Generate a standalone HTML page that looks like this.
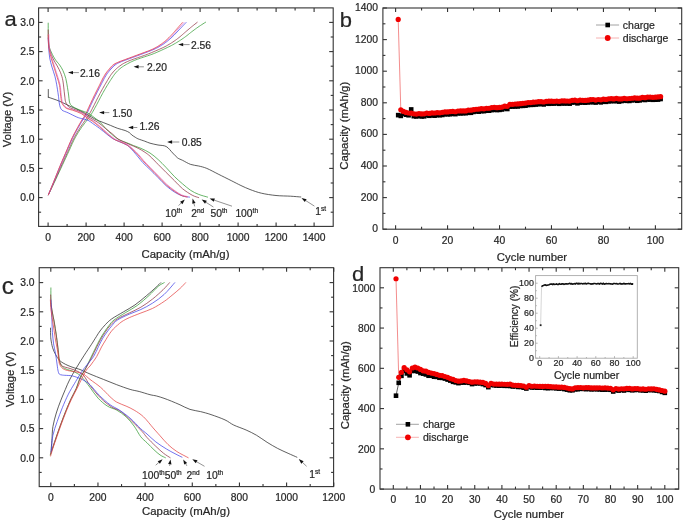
<!DOCTYPE html>
<html><head><meta charset="utf-8"><style>
html,body{margin:0;padding:0;background:#fff;}
svg{display:block;font-family:"Liberation Sans", sans-serif;filter:blur(0.3px);}
text{stroke:#2a2a2a;stroke-width:0.22px;paint-order:stroke;}
</style></head><body>
<svg width="685" height="524" viewBox="0 0 685 524">
<rect width="685" height="524" fill="#fff"/>
<rect x="38.6" y="7.9" width="294.6" height="218.5" fill="none" stroke="#333" stroke-width="1.1"/>
<line x1="48.1" y1="226.4" x2="48.1" y2="222.4" stroke="#333" stroke-width="1.1"/>
<line x1="48.1" y1="7.9" x2="48.1" y2="11.9" stroke="#333" stroke-width="1.1"/>
<text x="48.1" y="241.3" font-size="10.3" text-anchor="middle" fill="#262626" >0</text>
<line x1="86.1" y1="226.4" x2="86.1" y2="222.4" stroke="#333" stroke-width="1.1"/>
<line x1="86.1" y1="7.9" x2="86.1" y2="11.9" stroke="#333" stroke-width="1.1"/>
<text x="86.1" y="241.3" font-size="10.3" text-anchor="middle" fill="#262626" >200</text>
<line x1="124.1" y1="226.4" x2="124.1" y2="222.4" stroke="#333" stroke-width="1.1"/>
<line x1="124.1" y1="7.9" x2="124.1" y2="11.9" stroke="#333" stroke-width="1.1"/>
<text x="124.1" y="241.3" font-size="10.3" text-anchor="middle" fill="#262626" >400</text>
<line x1="162.1" y1="226.4" x2="162.1" y2="222.4" stroke="#333" stroke-width="1.1"/>
<line x1="162.1" y1="7.9" x2="162.1" y2="11.9" stroke="#333" stroke-width="1.1"/>
<text x="162.1" y="241.3" font-size="10.3" text-anchor="middle" fill="#262626" >600</text>
<line x1="200.1" y1="226.4" x2="200.1" y2="222.4" stroke="#333" stroke-width="1.1"/>
<line x1="200.1" y1="7.9" x2="200.1" y2="11.9" stroke="#333" stroke-width="1.1"/>
<text x="200.1" y="241.3" font-size="10.3" text-anchor="middle" fill="#262626" >800</text>
<line x1="238.1" y1="226.4" x2="238.1" y2="222.4" stroke="#333" stroke-width="1.1"/>
<line x1="238.1" y1="7.9" x2="238.1" y2="11.9" stroke="#333" stroke-width="1.1"/>
<text x="238.1" y="241.3" font-size="10.3" text-anchor="middle" fill="#262626" >1000</text>
<line x1="276.1" y1="226.4" x2="276.1" y2="222.4" stroke="#333" stroke-width="1.1"/>
<line x1="276.1" y1="7.9" x2="276.1" y2="11.9" stroke="#333" stroke-width="1.1"/>
<text x="276.1" y="241.3" font-size="10.3" text-anchor="middle" fill="#262626" >1200</text>
<line x1="314.1" y1="226.4" x2="314.1" y2="222.4" stroke="#333" stroke-width="1.1"/>
<line x1="314.1" y1="7.9" x2="314.1" y2="11.9" stroke="#333" stroke-width="1.1"/>
<text x="314.1" y="241.3" font-size="10.3" text-anchor="middle" fill="#262626" >1400</text>
<line x1="67.1" y1="226.4" x2="67.1" y2="223.9" stroke="#333" stroke-width="1.1"/>
<line x1="67.1" y1="7.9" x2="67.1" y2="10.4" stroke="#333" stroke-width="1.1"/>
<line x1="105.1" y1="226.4" x2="105.1" y2="223.9" stroke="#333" stroke-width="1.1"/>
<line x1="105.1" y1="7.9" x2="105.1" y2="10.4" stroke="#333" stroke-width="1.1"/>
<line x1="143.1" y1="226.4" x2="143.1" y2="223.9" stroke="#333" stroke-width="1.1"/>
<line x1="143.1" y1="7.9" x2="143.1" y2="10.4" stroke="#333" stroke-width="1.1"/>
<line x1="181.1" y1="226.4" x2="181.1" y2="223.9" stroke="#333" stroke-width="1.1"/>
<line x1="181.1" y1="7.9" x2="181.1" y2="10.4" stroke="#333" stroke-width="1.1"/>
<line x1="219.1" y1="226.4" x2="219.1" y2="223.9" stroke="#333" stroke-width="1.1"/>
<line x1="219.1" y1="7.9" x2="219.1" y2="10.4" stroke="#333" stroke-width="1.1"/>
<line x1="257.1" y1="226.4" x2="257.1" y2="223.9" stroke="#333" stroke-width="1.1"/>
<line x1="257.1" y1="7.9" x2="257.1" y2="10.4" stroke="#333" stroke-width="1.1"/>
<line x1="295.1" y1="226.4" x2="295.1" y2="223.9" stroke="#333" stroke-width="1.1"/>
<line x1="295.1" y1="7.9" x2="295.1" y2="10.4" stroke="#333" stroke-width="1.1"/>
<line x1="38.6" y1="197.6" x2="42.6" y2="197.6" stroke="#333" stroke-width="1.1"/>
<line x1="333.2" y1="197.6" x2="329.2" y2="197.6" stroke="#333" stroke-width="1.1"/>
<text x="34.6" y="201.31" font-size="10.3" text-anchor="end" fill="#262626" >0.0</text>
<line x1="38.6" y1="168.4" x2="42.6" y2="168.4" stroke="#333" stroke-width="1.1"/>
<line x1="333.2" y1="168.4" x2="329.2" y2="168.4" stroke="#333" stroke-width="1.1"/>
<text x="34.6" y="172.11" font-size="10.3" text-anchor="end" fill="#262626" >0.5</text>
<line x1="38.6" y1="139.2" x2="42.6" y2="139.2" stroke="#333" stroke-width="1.1"/>
<line x1="333.2" y1="139.2" x2="329.2" y2="139.2" stroke="#333" stroke-width="1.1"/>
<text x="34.6" y="142.91" font-size="10.3" text-anchor="end" fill="#262626" >1.0</text>
<line x1="38.6" y1="110" x2="42.6" y2="110" stroke="#333" stroke-width="1.1"/>
<line x1="333.2" y1="110" x2="329.2" y2="110" stroke="#333" stroke-width="1.1"/>
<text x="34.6" y="113.71" font-size="10.3" text-anchor="end" fill="#262626" >1.5</text>
<line x1="38.6" y1="80.8" x2="42.6" y2="80.8" stroke="#333" stroke-width="1.1"/>
<line x1="333.2" y1="80.8" x2="329.2" y2="80.8" stroke="#333" stroke-width="1.1"/>
<text x="34.6" y="84.51" font-size="10.3" text-anchor="end" fill="#262626" >2.0</text>
<line x1="38.6" y1="51.6" x2="42.6" y2="51.6" stroke="#333" stroke-width="1.1"/>
<line x1="333.2" y1="51.6" x2="329.2" y2="51.6" stroke="#333" stroke-width="1.1"/>
<text x="34.6" y="55.31" font-size="10.3" text-anchor="end" fill="#262626" >2.5</text>
<line x1="38.6" y1="22.4" x2="42.6" y2="22.4" stroke="#333" stroke-width="1.1"/>
<line x1="333.2" y1="22.4" x2="329.2" y2="22.4" stroke="#333" stroke-width="1.1"/>
<text x="34.6" y="26.11" font-size="10.3" text-anchor="end" fill="#262626" >3.0</text>
<line x1="38.6" y1="212.2" x2="41.1" y2="212.2" stroke="#333" stroke-width="1.1"/>
<line x1="333.2" y1="212.2" x2="330.7" y2="212.2" stroke="#333" stroke-width="1.1"/>
<line x1="38.6" y1="183" x2="41.1" y2="183" stroke="#333" stroke-width="1.1"/>
<line x1="333.2" y1="183" x2="330.7" y2="183" stroke="#333" stroke-width="1.1"/>
<line x1="38.6" y1="153.8" x2="41.1" y2="153.8" stroke="#333" stroke-width="1.1"/>
<line x1="333.2" y1="153.8" x2="330.7" y2="153.8" stroke="#333" stroke-width="1.1"/>
<line x1="38.6" y1="124.6" x2="41.1" y2="124.6" stroke="#333" stroke-width="1.1"/>
<line x1="333.2" y1="124.6" x2="330.7" y2="124.6" stroke="#333" stroke-width="1.1"/>
<line x1="38.6" y1="95.4" x2="41.1" y2="95.4" stroke="#333" stroke-width="1.1"/>
<line x1="333.2" y1="95.4" x2="330.7" y2="95.4" stroke="#333" stroke-width="1.1"/>
<line x1="38.6" y1="66.2" x2="41.1" y2="66.2" stroke="#333" stroke-width="1.1"/>
<line x1="333.2" y1="66.2" x2="330.7" y2="66.2" stroke="#333" stroke-width="1.1"/>
<line x1="38.6" y1="37" x2="41.1" y2="37" stroke="#333" stroke-width="1.1"/>
<line x1="333.2" y1="37" x2="330.7" y2="37" stroke="#333" stroke-width="1.1"/>
<text x="185.5" y="257.6" font-size="11.4" text-anchor="middle" fill="#262626" >Capacity (mAh/g)</text>
<text x="0" y="0" font-size="11.2" text-anchor="middle" fill="#262626" transform="translate(11.2,119.5) rotate(-90)">Voltage (V)</text>
<text x="4.6" y="27.37" font-size="22" text-anchor="start" fill="#262626" transform="scale(1,0.95)">a</text>
<rect x="382.9" y="8" width="298.8" height="221.2" fill="none" stroke="#333" stroke-width="1.1"/>
<line x1="395.6" y1="229.2" x2="395.6" y2="225.2" stroke="#333" stroke-width="1.1"/>
<line x1="395.6" y1="8" x2="395.6" y2="12" stroke="#333" stroke-width="1.1"/>
<text x="395.6" y="244.4" font-size="10.3" text-anchor="middle" fill="#262626" >0</text>
<line x1="447.56" y1="229.2" x2="447.56" y2="225.2" stroke="#333" stroke-width="1.1"/>
<line x1="447.56" y1="8" x2="447.56" y2="12" stroke="#333" stroke-width="1.1"/>
<text x="447.56" y="244.4" font-size="10.3" text-anchor="middle" fill="#262626" >20</text>
<line x1="499.52" y1="229.2" x2="499.52" y2="225.2" stroke="#333" stroke-width="1.1"/>
<line x1="499.52" y1="8" x2="499.52" y2="12" stroke="#333" stroke-width="1.1"/>
<text x="499.52" y="244.4" font-size="10.3" text-anchor="middle" fill="#262626" >40</text>
<line x1="551.48" y1="229.2" x2="551.48" y2="225.2" stroke="#333" stroke-width="1.1"/>
<line x1="551.48" y1="8" x2="551.48" y2="12" stroke="#333" stroke-width="1.1"/>
<text x="551.48" y="244.4" font-size="10.3" text-anchor="middle" fill="#262626" >60</text>
<line x1="603.44" y1="229.2" x2="603.44" y2="225.2" stroke="#333" stroke-width="1.1"/>
<line x1="603.44" y1="8" x2="603.44" y2="12" stroke="#333" stroke-width="1.1"/>
<text x="603.44" y="244.4" font-size="10.3" text-anchor="middle" fill="#262626" >80</text>
<line x1="655.4" y1="229.2" x2="655.4" y2="225.2" stroke="#333" stroke-width="1.1"/>
<line x1="655.4" y1="8" x2="655.4" y2="12" stroke="#333" stroke-width="1.1"/>
<text x="655.4" y="244.4" font-size="10.3" text-anchor="middle" fill="#262626" >100</text>
<line x1="421.58" y1="229.2" x2="421.58" y2="226.7" stroke="#333" stroke-width="1.1"/>
<line x1="421.58" y1="8" x2="421.58" y2="10.5" stroke="#333" stroke-width="1.1"/>
<line x1="473.54" y1="229.2" x2="473.54" y2="226.7" stroke="#333" stroke-width="1.1"/>
<line x1="473.54" y1="8" x2="473.54" y2="10.5" stroke="#333" stroke-width="1.1"/>
<line x1="525.5" y1="229.2" x2="525.5" y2="226.7" stroke="#333" stroke-width="1.1"/>
<line x1="525.5" y1="8" x2="525.5" y2="10.5" stroke="#333" stroke-width="1.1"/>
<line x1="577.46" y1="229.2" x2="577.46" y2="226.7" stroke="#333" stroke-width="1.1"/>
<line x1="577.46" y1="8" x2="577.46" y2="10.5" stroke="#333" stroke-width="1.1"/>
<line x1="629.42" y1="229.2" x2="629.42" y2="226.7" stroke="#333" stroke-width="1.1"/>
<line x1="629.42" y1="8" x2="629.42" y2="10.5" stroke="#333" stroke-width="1.1"/>
<line x1="382.9" y1="229.2" x2="386.9" y2="229.2" stroke="#333" stroke-width="1.1"/>
<line x1="681.7" y1="229.2" x2="677.7" y2="229.2" stroke="#333" stroke-width="1.1"/>
<text x="378" y="232.19" font-size="10.3" text-anchor="end" fill="#262626" >0</text>
<line x1="382.9" y1="197.6" x2="386.9" y2="197.6" stroke="#333" stroke-width="1.1"/>
<line x1="681.7" y1="197.6" x2="677.7" y2="197.6" stroke="#333" stroke-width="1.1"/>
<text x="378" y="200.59" font-size="10.3" text-anchor="end" fill="#262626" >200</text>
<line x1="382.9" y1="166" x2="386.9" y2="166" stroke="#333" stroke-width="1.1"/>
<line x1="681.7" y1="166" x2="677.7" y2="166" stroke="#333" stroke-width="1.1"/>
<text x="378" y="168.99" font-size="10.3" text-anchor="end" fill="#262626" >400</text>
<line x1="382.9" y1="134.4" x2="386.9" y2="134.4" stroke="#333" stroke-width="1.1"/>
<line x1="681.7" y1="134.4" x2="677.7" y2="134.4" stroke="#333" stroke-width="1.1"/>
<text x="378" y="137.39" font-size="10.3" text-anchor="end" fill="#262626" >600</text>
<line x1="382.9" y1="102.8" x2="386.9" y2="102.8" stroke="#333" stroke-width="1.1"/>
<line x1="681.7" y1="102.8" x2="677.7" y2="102.8" stroke="#333" stroke-width="1.1"/>
<text x="378" y="105.79" font-size="10.3" text-anchor="end" fill="#262626" >800</text>
<line x1="382.9" y1="71.2" x2="386.9" y2="71.2" stroke="#333" stroke-width="1.1"/>
<line x1="681.7" y1="71.2" x2="677.7" y2="71.2" stroke="#333" stroke-width="1.1"/>
<text x="378" y="74.19" font-size="10.3" text-anchor="end" fill="#262626" >1000</text>
<line x1="382.9" y1="39.6" x2="386.9" y2="39.6" stroke="#333" stroke-width="1.1"/>
<line x1="681.7" y1="39.6" x2="677.7" y2="39.6" stroke="#333" stroke-width="1.1"/>
<text x="378" y="42.59" font-size="10.3" text-anchor="end" fill="#262626" >1200</text>
<line x1="382.9" y1="8" x2="386.9" y2="8" stroke="#333" stroke-width="1.1"/>
<line x1="681.7" y1="8" x2="677.7" y2="8" stroke="#333" stroke-width="1.1"/>
<text x="378" y="10.99" font-size="10.3" text-anchor="end" fill="#262626" >1400</text>
<line x1="382.9" y1="213.4" x2="385.4" y2="213.4" stroke="#333" stroke-width="1.1"/>
<line x1="681.7" y1="213.4" x2="679.2" y2="213.4" stroke="#333" stroke-width="1.1"/>
<line x1="382.9" y1="181.8" x2="385.4" y2="181.8" stroke="#333" stroke-width="1.1"/>
<line x1="681.7" y1="181.8" x2="679.2" y2="181.8" stroke="#333" stroke-width="1.1"/>
<line x1="382.9" y1="150.2" x2="385.4" y2="150.2" stroke="#333" stroke-width="1.1"/>
<line x1="681.7" y1="150.2" x2="679.2" y2="150.2" stroke="#333" stroke-width="1.1"/>
<line x1="382.9" y1="118.6" x2="385.4" y2="118.6" stroke="#333" stroke-width="1.1"/>
<line x1="681.7" y1="118.6" x2="679.2" y2="118.6" stroke="#333" stroke-width="1.1"/>
<line x1="382.9" y1="87" x2="385.4" y2="87" stroke="#333" stroke-width="1.1"/>
<line x1="681.7" y1="87" x2="679.2" y2="87" stroke="#333" stroke-width="1.1"/>
<line x1="382.9" y1="55.4" x2="385.4" y2="55.4" stroke="#333" stroke-width="1.1"/>
<line x1="681.7" y1="55.4" x2="679.2" y2="55.4" stroke="#333" stroke-width="1.1"/>
<line x1="382.9" y1="23.8" x2="385.4" y2="23.8" stroke="#333" stroke-width="1.1"/>
<line x1="681.7" y1="23.8" x2="679.2" y2="23.8" stroke="#333" stroke-width="1.1"/>
<text x="532" y="261.3" font-size="11.4" text-anchor="middle" fill="#262626" >Cycle number</text>
<text x="0" y="0" font-size="11.4" text-anchor="middle" fill="#262626" transform="translate(347.6,125.8) rotate(-90)">Capacity (mAh/g)</text>
<text x="339.8" y="28" font-size="22" text-anchor="start" fill="#262626" transform="scale(1,0.95)">b</text>
<rect x="39.2" y="267.7" width="294.4" height="218.9" fill="none" stroke="#333" stroke-width="1.1"/>
<line x1="50.8" y1="486.6" x2="50.8" y2="482.6" stroke="#333" stroke-width="1.1"/>
<line x1="50.8" y1="267.7" x2="50.8" y2="271.7" stroke="#333" stroke-width="1.1"/>
<text x="50.8" y="501.1" font-size="10.3" text-anchor="middle" fill="#262626" >0</text>
<line x1="97.96" y1="486.6" x2="97.96" y2="482.6" stroke="#333" stroke-width="1.1"/>
<line x1="97.96" y1="267.7" x2="97.96" y2="271.7" stroke="#333" stroke-width="1.1"/>
<text x="97.96" y="501.1" font-size="10.3" text-anchor="middle" fill="#262626" >200</text>
<line x1="145.12" y1="486.6" x2="145.12" y2="482.6" stroke="#333" stroke-width="1.1"/>
<line x1="145.12" y1="267.7" x2="145.12" y2="271.7" stroke="#333" stroke-width="1.1"/>
<text x="145.12" y="501.1" font-size="10.3" text-anchor="middle" fill="#262626" >400</text>
<line x1="192.28" y1="486.6" x2="192.28" y2="482.6" stroke="#333" stroke-width="1.1"/>
<line x1="192.28" y1="267.7" x2="192.28" y2="271.7" stroke="#333" stroke-width="1.1"/>
<text x="192.28" y="501.1" font-size="10.3" text-anchor="middle" fill="#262626" >600</text>
<line x1="239.44" y1="486.6" x2="239.44" y2="482.6" stroke="#333" stroke-width="1.1"/>
<line x1="239.44" y1="267.7" x2="239.44" y2="271.7" stroke="#333" stroke-width="1.1"/>
<text x="239.44" y="501.1" font-size="10.3" text-anchor="middle" fill="#262626" >800</text>
<line x1="286.6" y1="486.6" x2="286.6" y2="482.6" stroke="#333" stroke-width="1.1"/>
<line x1="286.6" y1="267.7" x2="286.6" y2="271.7" stroke="#333" stroke-width="1.1"/>
<text x="286.6" y="501.1" font-size="10.3" text-anchor="middle" fill="#262626" >1000</text>
<line x1="333.76" y1="486.6" x2="333.76" y2="482.6" stroke="#333" stroke-width="1.1"/>
<line x1="333.76" y1="267.7" x2="333.76" y2="271.7" stroke="#333" stroke-width="1.1"/>
<text x="333.76" y="501.1" font-size="10.3" text-anchor="middle" fill="#262626" >1200</text>
<line x1="74.38" y1="486.6" x2="74.38" y2="484.1" stroke="#333" stroke-width="1.1"/>
<line x1="74.38" y1="267.7" x2="74.38" y2="270.2" stroke="#333" stroke-width="1.1"/>
<line x1="121.54" y1="486.6" x2="121.54" y2="484.1" stroke="#333" stroke-width="1.1"/>
<line x1="121.54" y1="267.7" x2="121.54" y2="270.2" stroke="#333" stroke-width="1.1"/>
<line x1="168.7" y1="486.6" x2="168.7" y2="484.1" stroke="#333" stroke-width="1.1"/>
<line x1="168.7" y1="267.7" x2="168.7" y2="270.2" stroke="#333" stroke-width="1.1"/>
<line x1="215.86" y1="486.6" x2="215.86" y2="484.1" stroke="#333" stroke-width="1.1"/>
<line x1="215.86" y1="267.7" x2="215.86" y2="270.2" stroke="#333" stroke-width="1.1"/>
<line x1="263.02" y1="486.6" x2="263.02" y2="484.1" stroke="#333" stroke-width="1.1"/>
<line x1="263.02" y1="267.7" x2="263.02" y2="270.2" stroke="#333" stroke-width="1.1"/>
<line x1="310.18" y1="486.6" x2="310.18" y2="484.1" stroke="#333" stroke-width="1.1"/>
<line x1="310.18" y1="267.7" x2="310.18" y2="270.2" stroke="#333" stroke-width="1.1"/>
<line x1="39.2" y1="457.8" x2="43.2" y2="457.8" stroke="#333" stroke-width="1.1"/>
<line x1="333.6" y1="457.8" x2="329.6" y2="457.8" stroke="#333" stroke-width="1.1"/>
<text x="34.6" y="461.51" font-size="10.3" text-anchor="end" fill="#262626" >0.0</text>
<line x1="39.2" y1="428.6" x2="43.2" y2="428.6" stroke="#333" stroke-width="1.1"/>
<line x1="333.6" y1="428.6" x2="329.6" y2="428.6" stroke="#333" stroke-width="1.1"/>
<text x="34.6" y="432.31" font-size="10.3" text-anchor="end" fill="#262626" >0.5</text>
<line x1="39.2" y1="399.4" x2="43.2" y2="399.4" stroke="#333" stroke-width="1.1"/>
<line x1="333.6" y1="399.4" x2="329.6" y2="399.4" stroke="#333" stroke-width="1.1"/>
<text x="34.6" y="403.11" font-size="10.3" text-anchor="end" fill="#262626" >1.0</text>
<line x1="39.2" y1="370.2" x2="43.2" y2="370.2" stroke="#333" stroke-width="1.1"/>
<line x1="333.6" y1="370.2" x2="329.6" y2="370.2" stroke="#333" stroke-width="1.1"/>
<text x="34.6" y="373.91" font-size="10.3" text-anchor="end" fill="#262626" >1.5</text>
<line x1="39.2" y1="341" x2="43.2" y2="341" stroke="#333" stroke-width="1.1"/>
<line x1="333.6" y1="341" x2="329.6" y2="341" stroke="#333" stroke-width="1.1"/>
<text x="34.6" y="344.71" font-size="10.3" text-anchor="end" fill="#262626" >2.0</text>
<line x1="39.2" y1="311.8" x2="43.2" y2="311.8" stroke="#333" stroke-width="1.1"/>
<line x1="333.6" y1="311.8" x2="329.6" y2="311.8" stroke="#333" stroke-width="1.1"/>
<text x="34.6" y="315.51" font-size="10.3" text-anchor="end" fill="#262626" >2.5</text>
<line x1="39.2" y1="282.6" x2="43.2" y2="282.6" stroke="#333" stroke-width="1.1"/>
<line x1="333.6" y1="282.6" x2="329.6" y2="282.6" stroke="#333" stroke-width="1.1"/>
<text x="34.6" y="286.31" font-size="10.3" text-anchor="end" fill="#262626" >3.0</text>
<line x1="39.2" y1="472.4" x2="41.7" y2="472.4" stroke="#333" stroke-width="1.1"/>
<line x1="333.6" y1="472.4" x2="331.1" y2="472.4" stroke="#333" stroke-width="1.1"/>
<line x1="39.2" y1="443.2" x2="41.7" y2="443.2" stroke="#333" stroke-width="1.1"/>
<line x1="333.6" y1="443.2" x2="331.1" y2="443.2" stroke="#333" stroke-width="1.1"/>
<line x1="39.2" y1="414" x2="41.7" y2="414" stroke="#333" stroke-width="1.1"/>
<line x1="333.6" y1="414" x2="331.1" y2="414" stroke="#333" stroke-width="1.1"/>
<line x1="39.2" y1="384.8" x2="41.7" y2="384.8" stroke="#333" stroke-width="1.1"/>
<line x1="333.6" y1="384.8" x2="331.1" y2="384.8" stroke="#333" stroke-width="1.1"/>
<line x1="39.2" y1="355.6" x2="41.7" y2="355.6" stroke="#333" stroke-width="1.1"/>
<line x1="333.6" y1="355.6" x2="331.1" y2="355.6" stroke="#333" stroke-width="1.1"/>
<line x1="39.2" y1="326.4" x2="41.7" y2="326.4" stroke="#333" stroke-width="1.1"/>
<line x1="333.6" y1="326.4" x2="331.1" y2="326.4" stroke="#333" stroke-width="1.1"/>
<line x1="39.2" y1="297.2" x2="41.7" y2="297.2" stroke="#333" stroke-width="1.1"/>
<line x1="333.6" y1="297.2" x2="331.1" y2="297.2" stroke="#333" stroke-width="1.1"/>
<text x="186" y="514.7" font-size="11.4" text-anchor="middle" fill="#262626" >Capacity (mAh/g)</text>
<text x="0" y="0" font-size="11.2" text-anchor="middle" fill="#262626" transform="translate(14.2,379.5) rotate(-90)">Voltage (V)</text>
<text x="1.8" y="293.6" font-size="24.2" text-anchor="start" fill="#262626" >c</text>
<rect x="380" y="267.7" width="298.7" height="221.4" fill="none" stroke="#333" stroke-width="1.1"/>
<line x1="393.3" y1="489.1" x2="393.3" y2="485.1" stroke="#333" stroke-width="1.1"/>
<line x1="393.3" y1="267.7" x2="393.3" y2="271.7" stroke="#333" stroke-width="1.1"/>
<text x="393.3" y="502.6" font-size="10.3" text-anchor="middle" fill="#262626" >0</text>
<line x1="420.45" y1="489.1" x2="420.45" y2="485.1" stroke="#333" stroke-width="1.1"/>
<line x1="420.45" y1="267.7" x2="420.45" y2="271.7" stroke="#333" stroke-width="1.1"/>
<text x="420.45" y="502.6" font-size="10.3" text-anchor="middle" fill="#262626" >10</text>
<line x1="447.6" y1="489.1" x2="447.6" y2="485.1" stroke="#333" stroke-width="1.1"/>
<line x1="447.6" y1="267.7" x2="447.6" y2="271.7" stroke="#333" stroke-width="1.1"/>
<text x="447.6" y="502.6" font-size="10.3" text-anchor="middle" fill="#262626" >20</text>
<line x1="474.75" y1="489.1" x2="474.75" y2="485.1" stroke="#333" stroke-width="1.1"/>
<line x1="474.75" y1="267.7" x2="474.75" y2="271.7" stroke="#333" stroke-width="1.1"/>
<text x="474.75" y="502.6" font-size="10.3" text-anchor="middle" fill="#262626" >30</text>
<line x1="501.9" y1="489.1" x2="501.9" y2="485.1" stroke="#333" stroke-width="1.1"/>
<line x1="501.9" y1="267.7" x2="501.9" y2="271.7" stroke="#333" stroke-width="1.1"/>
<text x="501.9" y="502.6" font-size="10.3" text-anchor="middle" fill="#262626" >40</text>
<line x1="529.05" y1="489.1" x2="529.05" y2="485.1" stroke="#333" stroke-width="1.1"/>
<line x1="529.05" y1="267.7" x2="529.05" y2="271.7" stroke="#333" stroke-width="1.1"/>
<text x="529.05" y="502.6" font-size="10.3" text-anchor="middle" fill="#262626" >50</text>
<line x1="556.2" y1="489.1" x2="556.2" y2="485.1" stroke="#333" stroke-width="1.1"/>
<line x1="556.2" y1="267.7" x2="556.2" y2="271.7" stroke="#333" stroke-width="1.1"/>
<text x="556.2" y="502.6" font-size="10.3" text-anchor="middle" fill="#262626" >60</text>
<line x1="583.35" y1="489.1" x2="583.35" y2="485.1" stroke="#333" stroke-width="1.1"/>
<line x1="583.35" y1="267.7" x2="583.35" y2="271.7" stroke="#333" stroke-width="1.1"/>
<text x="583.35" y="502.6" font-size="10.3" text-anchor="middle" fill="#262626" >70</text>
<line x1="610.5" y1="489.1" x2="610.5" y2="485.1" stroke="#333" stroke-width="1.1"/>
<line x1="610.5" y1="267.7" x2="610.5" y2="271.7" stroke="#333" stroke-width="1.1"/>
<text x="610.5" y="502.6" font-size="10.3" text-anchor="middle" fill="#262626" >80</text>
<line x1="637.65" y1="489.1" x2="637.65" y2="485.1" stroke="#333" stroke-width="1.1"/>
<line x1="637.65" y1="267.7" x2="637.65" y2="271.7" stroke="#333" stroke-width="1.1"/>
<text x="637.65" y="502.6" font-size="10.3" text-anchor="middle" fill="#262626" >90</text>
<line x1="664.8" y1="489.1" x2="664.8" y2="485.1" stroke="#333" stroke-width="1.1"/>
<line x1="664.8" y1="267.7" x2="664.8" y2="271.7" stroke="#333" stroke-width="1.1"/>
<text x="664.8" y="502.6" font-size="10.3" text-anchor="middle" fill="#262626" >100</text>
<line x1="406.88" y1="489.1" x2="406.88" y2="486.6" stroke="#333" stroke-width="1.1"/>
<line x1="406.88" y1="267.7" x2="406.88" y2="270.2" stroke="#333" stroke-width="1.1"/>
<line x1="434.02" y1="489.1" x2="434.02" y2="486.6" stroke="#333" stroke-width="1.1"/>
<line x1="434.02" y1="267.7" x2="434.02" y2="270.2" stroke="#333" stroke-width="1.1"/>
<line x1="461.18" y1="489.1" x2="461.18" y2="486.6" stroke="#333" stroke-width="1.1"/>
<line x1="461.18" y1="267.7" x2="461.18" y2="270.2" stroke="#333" stroke-width="1.1"/>
<line x1="488.32" y1="489.1" x2="488.32" y2="486.6" stroke="#333" stroke-width="1.1"/>
<line x1="488.32" y1="267.7" x2="488.32" y2="270.2" stroke="#333" stroke-width="1.1"/>
<line x1="515.48" y1="489.1" x2="515.48" y2="486.6" stroke="#333" stroke-width="1.1"/>
<line x1="515.48" y1="267.7" x2="515.48" y2="270.2" stroke="#333" stroke-width="1.1"/>
<line x1="542.62" y1="489.1" x2="542.62" y2="486.6" stroke="#333" stroke-width="1.1"/>
<line x1="542.62" y1="267.7" x2="542.62" y2="270.2" stroke="#333" stroke-width="1.1"/>
<line x1="569.77" y1="489.1" x2="569.77" y2="486.6" stroke="#333" stroke-width="1.1"/>
<line x1="569.77" y1="267.7" x2="569.77" y2="270.2" stroke="#333" stroke-width="1.1"/>
<line x1="596.92" y1="489.1" x2="596.92" y2="486.6" stroke="#333" stroke-width="1.1"/>
<line x1="596.92" y1="267.7" x2="596.92" y2="270.2" stroke="#333" stroke-width="1.1"/>
<line x1="624.08" y1="489.1" x2="624.08" y2="486.6" stroke="#333" stroke-width="1.1"/>
<line x1="624.08" y1="267.7" x2="624.08" y2="270.2" stroke="#333" stroke-width="1.1"/>
<line x1="651.23" y1="489.1" x2="651.23" y2="486.6" stroke="#333" stroke-width="1.1"/>
<line x1="651.23" y1="267.7" x2="651.23" y2="270.2" stroke="#333" stroke-width="1.1"/>
<line x1="380" y1="489.1" x2="384" y2="489.1" stroke="#333" stroke-width="1.1"/>
<line x1="678.7" y1="489.1" x2="674.7" y2="489.1" stroke="#333" stroke-width="1.1"/>
<text x="375.2" y="492.81" font-size="10.3" text-anchor="end" fill="#262626" >0</text>
<line x1="380" y1="448.84" x2="384" y2="448.84" stroke="#333" stroke-width="1.1"/>
<line x1="678.7" y1="448.84" x2="674.7" y2="448.84" stroke="#333" stroke-width="1.1"/>
<text x="375.2" y="452.55" font-size="10.3" text-anchor="end" fill="#262626" >200</text>
<line x1="380" y1="408.58" x2="384" y2="408.58" stroke="#333" stroke-width="1.1"/>
<line x1="678.7" y1="408.58" x2="674.7" y2="408.58" stroke="#333" stroke-width="1.1"/>
<text x="375.2" y="412.29" font-size="10.3" text-anchor="end" fill="#262626" >400</text>
<line x1="380" y1="368.32" x2="384" y2="368.32" stroke="#333" stroke-width="1.1"/>
<line x1="678.7" y1="368.32" x2="674.7" y2="368.32" stroke="#333" stroke-width="1.1"/>
<text x="375.2" y="372.03" font-size="10.3" text-anchor="end" fill="#262626" >600</text>
<line x1="380" y1="328.06" x2="384" y2="328.06" stroke="#333" stroke-width="1.1"/>
<line x1="678.7" y1="328.06" x2="674.7" y2="328.06" stroke="#333" stroke-width="1.1"/>
<text x="375.2" y="331.77" font-size="10.3" text-anchor="end" fill="#262626" >800</text>
<line x1="380" y1="287.8" x2="384" y2="287.8" stroke="#333" stroke-width="1.1"/>
<line x1="678.7" y1="287.8" x2="674.7" y2="287.8" stroke="#333" stroke-width="1.1"/>
<text x="375.2" y="291.51" font-size="10.3" text-anchor="end" fill="#262626" >1000</text>
<line x1="380" y1="468.97" x2="382.5" y2="468.97" stroke="#333" stroke-width="1.1"/>
<line x1="678.7" y1="468.97" x2="676.2" y2="468.97" stroke="#333" stroke-width="1.1"/>
<line x1="380" y1="428.71" x2="382.5" y2="428.71" stroke="#333" stroke-width="1.1"/>
<line x1="678.7" y1="428.71" x2="676.2" y2="428.71" stroke="#333" stroke-width="1.1"/>
<line x1="380" y1="388.45" x2="382.5" y2="388.45" stroke="#333" stroke-width="1.1"/>
<line x1="678.7" y1="388.45" x2="676.2" y2="388.45" stroke="#333" stroke-width="1.1"/>
<line x1="380" y1="348.19" x2="382.5" y2="348.19" stroke="#333" stroke-width="1.1"/>
<line x1="678.7" y1="348.19" x2="676.2" y2="348.19" stroke="#333" stroke-width="1.1"/>
<line x1="380" y1="307.93" x2="382.5" y2="307.93" stroke="#333" stroke-width="1.1"/>
<line x1="678.7" y1="307.93" x2="676.2" y2="307.93" stroke="#333" stroke-width="1.1"/>
<text x="529" y="518.4" font-size="11.4" text-anchor="middle" fill="#262626" >Cycle number</text>
<text x="0" y="0" font-size="11.4" text-anchor="middle" fill="#262626" transform="translate(349.3,385.3) rotate(-90)">Capacity (mAh/g)</text>
<text x="352" y="295.37" font-size="22" text-anchor="start" fill="#262626" transform="scale(1,0.95)">d</text>
<path d="M48.3,89.5 L48.3,97.2" fill="none" stroke="#2a2a2a" stroke-width="0.75" stroke-linejoin="round" stroke-linecap="round"/>
<path d="M48.3,97.2 C50.08,97.83 55.52,99.57 59,101 C62.48,102.43 65.55,104.13 69.2,105.8 C72.85,107.47 77.43,109.28 80.9,111 C84.37,112.72 87.48,114.67 90,116.1 C92.52,117.53 93.8,118.53 96,119.6 C98.2,120.67 100.78,121.53 103.2,122.5 C105.62,123.47 108.07,124.42 110.5,125.4 C112.93,126.38 115.37,127.55 117.8,128.4 C120.23,129.25 123.15,129.78 125.1,130.5 C127.05,131.22 128.4,131.97 129.5,132.7 C130.6,133.43 130.78,134.17 131.7,134.9 C132.62,135.63 133.92,136.43 135,137.1 C136.08,137.77 136.57,138.22 138.2,138.9 C139.83,139.58 142.83,140.48 144.8,141.2 C146.77,141.92 147.8,142.57 150,143.2 C152.2,143.83 155.3,144.45 158,145 C160.7,145.55 163.75,145.17 166.2,146.5 C168.65,147.83 170.8,151.1 172.7,153 C174.6,154.9 175.97,156.68 177.6,157.9 C179.23,159.12 180.33,159.22 182.5,160.3 C184.67,161.38 187.9,163.45 190.6,164.4 C193.3,165.35 196,165.33 198.7,166 C201.4,166.67 203.55,167.05 206.8,168.4 C210.05,169.75 214.13,172.07 218.2,174.1 C222.27,176.13 227.42,178.7 231.2,180.6 C234.98,182.5 237.77,184.02 240.9,185.5 C244.03,186.98 246.58,188.22 250,189.5 C253.42,190.78 257.07,192.2 261.4,193.2 C265.73,194.2 271.13,195 276,195.5 C280.87,196 286.47,195.95 290.6,196.2 C294.73,196.45 299.1,196.87 300.8,197" fill="none" stroke="#2a2a2a" stroke-width="0.75" stroke-linejoin="round" stroke-linecap="round"/>
<path d="M48.4,194.8 L49.06,193.42 L49.73,192.04 L50.39,190.65 L51.05,189.27 L51.72,187.89 L52.38,186.51 L53.04,185.13 L53.7,183.74 L54.36,182.36 L55.01,180.97 L55.67,179.59 L56.32,178.2 L56.97,176.81 L57.62,175.42 L58.26,174.03 L58.91,172.64 L59.56,171.25 L60.2,169.86 L60.85,168.47 L61.5,167.08 L62.14,165.69 L62.79,164.3 L63.44,162.91 L64.08,161.52 L64.73,160.13 L65.37,158.74 L66.02,157.35 L66.66,155.96 L67.31,154.57 L67.95,153.18 L68.6,151.79 L69.23,150.4 L69.86,149 L70.49,147.6 L71.11,146.2 L71.74,144.8 L72.37,143.41 L73.02,142.02 L73.68,140.63 L74.36,139.26 L75.07,137.9 L75.81,136.56 L76.58,135.23 L77.36,133.92 L78.17,132.61 L78.99,131.32 L79.82,130.03 L80.67,128.75 L81.53,127.49 L82.43,126.24 L83.35,125.02 L84.28,123.8 L85.2,122.58 L86.11,121.34 L87.03,120.11 L87.95,118.89 L88.87,117.66 L89.77,116.42 L90.64,115.16 L91.47,113.87 L92.27,112.56 L93.04,111.24 L93.8,109.91 L94.54,108.57 L95.28,107.23 L96.02,105.88 L96.75,104.54 L97.47,103.18 L98.18,101.82 L98.88,100.46 L99.58,99.09 L100.28,97.73 L101,96.38 L101.73,95.03 L102.47,93.69 L103.21,92.35 L103.96,91.01 L104.73,89.68 L105.5,88.36 L106.27,87.04 L107.06,85.72 L107.86,84.42 L108.67,83.11 L109.49,81.82 L110.32,80.53 L111.16,79.25 L112.01,77.97 L112.86,76.69 L113.73,75.43 L114.63,74.2 L115.59,73 L116.6,71.85 L117.67,70.75 L118.79,69.7 L119.95,68.7 L121.14,67.73 L122.38,66.83 L123.66,66 L124.98,65.21 L126.31,64.45 L127.65,63.71 L129,62.99 L130.37,62.29 L131.75,61.62 L133.14,60.98 L134.54,60.37 L135.97,59.8 L137.4,59.26 L138.84,58.73 L140.28,58.22 L141.74,57.73 L143.19,57.25 L144.65,56.78 L146.11,56.31 L147.57,55.83 L149.02,55.34 L150.47,54.84 L151.91,54.32 L153.34,53.78 L154.77,53.21 L156.18,52.62 L157.59,52.01 L158.99,51.39 L160.39,50.76 L161.78,50.12 L163.17,49.47 L164.56,48.82 L165.94,48.17 L167.33,47.51 L168.71,46.85 L170.09,46.18 L171.46,45.49 L172.81,44.76 L174.14,44 L175.47,43.25 L176.79,42.47 L178.1,41.67 L179.4,40.85 L180.68,40.02 L181.96,39.17 L183.22,38.3 L184.47,37.41 L185.71,36.51 L186.93,35.59 L188.13,34.63 L189.32,33.67 L190.51,32.7 L191.72,31.76 L192.94,30.83 L194.17,29.92 L195.4,29 L196.64,28.11 L197.9,27.22 L199.16,26.35 L200.44,25.51 L201.72,24.67 L203.01,23.85 L204.31,23.02 L205.6,22.2" fill="none" stroke="#369c36" stroke-width="0.75" stroke-linejoin="round" stroke-linecap="round"/>
<path d="M48.4,194.8 L49.02,193.44 L49.64,192.07 L50.26,190.71 L50.88,189.35 L51.5,187.98 L52.12,186.62 L52.73,185.25 L53.35,183.89 L53.96,182.52 L54.58,181.16 L55.19,179.79 L55.8,178.42 L56.41,177.05 L57.01,175.68 L57.62,174.31 L58.22,172.94 L58.82,171.57 L59.43,170.2 L60.04,168.83 L60.64,167.46 L61.25,166.09 L61.86,164.73 L62.48,163.36 L63.09,161.99 L63.71,160.63 L64.32,159.26 L64.94,157.9 L65.56,156.53 L66.18,155.17 L66.8,153.8 L67.42,152.44 L68.03,151.07 L68.63,149.7 L69.24,148.33 L69.84,146.96 L70.44,145.58 L71.05,144.21 L71.66,142.85 L72.29,141.49 L72.94,140.14 L73.6,138.79 L74.29,137.46 L75,136.14 L75.73,134.84 L76.47,133.54 L77.24,132.25 L78.01,130.97 L78.8,129.7 L79.6,128.43 L80.42,127.18 L81.26,125.94 L82.1,124.71 L82.95,123.48 L83.78,122.24 L84.63,121 L85.48,119.78 L86.34,118.55 L87.2,117.32 L88.04,116.08 L88.85,114.82 L89.63,113.54 L90.38,112.24 L91.1,110.93 L91.79,109.6 L92.48,108.27 L93.16,106.94 L93.84,105.6 L94.51,104.27 L95.18,102.93 L95.85,101.58 L96.51,100.24 L97.19,98.9 L97.87,97.57 L98.56,96.24 L99.25,94.91 L99.95,93.59 L100.66,92.27 L101.38,90.95 L102.1,89.64 L102.83,88.34 L103.57,87.03 L104.31,85.73 L105.06,84.44 L105.82,83.15 L106.58,81.86 L107.35,80.57 L108.11,79.29 L108.88,78.01 L109.67,76.74 L110.48,75.49 L111.34,74.26 L112.26,73.08 L113.22,71.95 L114.23,70.85 L115.28,69.79 L116.35,68.76 L117.47,67.78 L118.63,66.85 L119.81,65.96 L121.01,65.09 L122.25,64.26 L123.52,63.48 L124.84,62.77 L126.19,62.11 L127.55,61.5 L128.93,60.92 L130.32,60.35 L131.72,59.82 L133.13,59.31 L134.54,58.81 L135.96,58.31 L137.37,57.83 L138.79,57.34 L140.21,56.86 L141.63,56.37 L143.04,55.88 L144.45,55.38 L145.86,54.86 L147.26,54.34 L148.66,53.79 L150.05,53.23 L151.43,52.66 L152.82,52.09 L154.2,51.51 L155.57,50.92 L156.95,50.33 L158.32,49.73 L159.69,49.13 L161.06,48.52 L162.42,47.9 L163.78,47.26 L165.12,46.59 L166.44,45.88 L167.74,45.14 L169.04,44.39 L170.33,43.63 L171.6,42.83 L172.85,42.02 L174.1,41.18 L175.32,40.32 L176.54,39.44 L177.73,38.54 L178.91,37.62 L180.07,36.67 L181.21,35.7 L182.34,34.72 L183.46,33.73 L184.59,32.75 L185.71,31.77 L186.84,30.8 L187.97,29.82 L189.11,28.86 L190.25,27.9 L191.4,26.96 L192.55,26.02 L193.72,25.1 L194.88,24.18 L196.05,23.26 L197.21,22.34" fill="none" stroke="#903444" stroke-width="0.75" stroke-linejoin="round" stroke-linecap="round"/>
<path d="M48.4,194.8 L48.96,193.46 L49.52,192.12 L50.08,190.78 L50.64,189.44 L51.2,188.1 L51.76,186.76 L52.32,185.42 L52.88,184.08 L53.44,182.74 L54,181.4 L54.55,180.06 L55.11,178.72 L55.66,177.37 L56.2,176.03 L56.75,174.68 L57.3,173.34 L57.85,171.99 L58.4,170.65 L58.95,169.31 L59.51,167.96 L60.07,166.62 L60.63,165.29 L61.2,163.95 L61.77,162.62 L62.35,161.28 L62.93,159.95 L63.51,158.62 L64.09,157.29 L64.67,155.96 L65.26,154.63 L65.84,153.3 L66.42,151.97 L67,150.63 L67.57,149.3 L68.14,147.96 L68.71,146.63 L69.28,145.29 L69.86,143.96 L70.44,142.63 L71.03,141.3 L71.64,139.98 L72.25,138.67 L72.89,137.36 L73.55,136.07 L74.22,134.78 L74.9,133.5 L75.6,132.23 L76.31,130.96 L77.03,129.7 L77.74,128.44 L78.47,127.18 L79.2,125.93 L79.94,124.68 L80.68,123.43 L81.43,122.19 L82.19,120.95 L82.97,119.73 L83.78,118.52 L84.58,117.31 L85.37,116.09 L86.12,114.85 L86.83,113.58 L87.49,112.29 L88.13,110.98 L88.74,109.67 L89.35,108.35 L89.96,107.03 L90.57,105.71 L91.18,104.4 L91.81,103.09 L92.43,101.78 L93.06,100.47 L93.69,99.16 L94.33,97.85 L94.97,96.55 L95.61,95.25 L96.26,93.95 L96.91,92.65 L97.57,91.36 L98.24,90.07 L98.91,88.78 L99.58,87.49 L100.25,86.2 L100.93,84.92 L101.59,83.63 L102.26,82.34 L102.92,81.05 L103.58,79.76 L104.26,78.47 L104.95,77.2 L105.69,75.95 L106.47,74.73 L107.29,73.54 L108.15,72.38 L109.05,71.24 L109.98,70.13 L110.94,69.05 L111.91,67.99 L112.91,66.95 L113.95,65.95 L115.05,65.01 L116.22,64.15 L117.47,63.41 L118.77,62.78 L120.11,62.2 L121.45,61.64 L122.79,61.09 L124.15,60.57 L125.52,60.08 L126.88,59.59 L128.25,59.09 L129.61,58.59 L130.97,58.09 L132.34,57.6 L133.7,57.1 L135.07,56.6 L136.43,56.09 L137.79,55.59 L139.15,55.08 L140.51,54.57 L141.87,54.05 L143.22,53.53 L144.58,53.02 L145.94,52.5 L147.3,51.99 L148.66,51.47 L150.01,50.95 L151.36,50.41 L152.7,49.86 L154.04,49.29 L155.36,48.69 L156.66,48.05 L157.95,47.38 L159.22,46.67 L160.47,45.93 L161.71,45.17 L162.93,44.38 L164.13,43.57 L165.31,42.73 L166.48,41.86 L167.62,40.97 L168.75,40.04 L169.84,39.1 L170.92,38.12 L171.98,37.13 L173.02,36.12 L174.05,35.1 L175.07,34.07 L176.07,33.02 L177.07,31.97 L178.06,30.91 L179.05,29.86 L180.05,28.81 L181.05,27.76 L182.04,26.72 L183.04,25.67 L184.03,24.63 L185.03,23.58 L186.03,22.54" fill="none" stroke="#4444e8" stroke-width="0.75" stroke-linejoin="round" stroke-linecap="round"/>
<path d="M48.4,194.8 L48.95,193.46 L49.5,192.13 L50.05,190.8 L50.6,189.46 L51.15,188.13 L51.7,186.79 L52.25,185.46 L52.8,184.12 L53.34,182.78 L53.89,181.45 L54.43,180.11 L54.98,178.77 L55.51,177.43 L56.05,176.09 L56.59,174.75 L57.13,173.41 L57.66,172.07 L58.2,170.73 L58.75,169.4 L59.29,168.06 L59.84,166.72 L60.4,165.39 L60.96,164.06 L61.52,162.73 L62.09,161.4 L62.67,160.08 L63.24,158.75 L63.82,157.43 L64.39,156.11 L64.97,154.78 L65.55,153.46 L66.12,152.13 L66.69,150.81 L67.26,149.48 L67.82,148.15 L68.39,146.82 L68.95,145.49 L69.52,144.17 L70.09,142.84 L70.68,141.52 L71.27,140.2 L71.87,138.89 L72.5,137.59 L73.14,136.3 L73.79,135.01 L74.47,133.73 L75.15,132.46 L75.85,131.2 L76.54,129.93 L77.24,128.67 L77.94,127.41 L78.65,126.15 L79.37,124.9 L80.1,123.65 L80.83,122.41 L81.57,121.17 L82.34,119.95 L83.14,118.75 L83.94,117.54 L84.72,116.33 L85.46,115.09 L86.16,113.83 L86.81,112.54 L87.44,111.24 L88.04,109.93 L88.64,108.61 L89.23,107.3 L89.83,105.98 L90.43,104.67 L91.05,103.37 L91.67,102.06 L92.29,100.76 L92.91,99.46 L93.53,98.15 L94.16,96.85 L94.79,95.56 L95.43,94.26 L96.08,92.97 L96.73,91.68 L97.38,90.39 L98.03,89.11 L98.69,87.82 L99.35,86.54 L100.01,85.25 L100.66,83.96 L101.3,82.67 L101.94,81.38 L102.58,80.09 L103.24,78.8 L103.92,77.53 L104.63,76.27 L105.38,75.04 L106.18,73.84 L107.01,72.66 L107.88,71.52 L108.78,70.39 L109.71,69.29 L110.65,68.2 L111.62,67.14 L112.63,66.11 L113.7,65.14 L114.85,64.28 L116.09,63.53 L117.38,62.9 L118.71,62.33 L120.05,61.78 L121.38,61.22 L122.73,60.71 L124.09,60.23 L125.45,59.73 L126.8,59.23 L128.15,58.73 L129.51,58.23 L130.86,57.73 L132.22,57.23 L133.57,56.73 L134.93,56.23 L136.28,55.73 L137.63,55.22 L138.98,54.71 L140.33,54.2 L141.69,53.69 L143.04,53.19 L144.39,52.69 L145.75,52.19 L147.1,51.69 L148.45,51.18 L149.8,50.65 L151.14,50.11 L152.46,49.55 L153.78,48.95 L155.08,48.33 L156.36,47.66 L157.62,46.95 L158.86,46.21 L160.09,45.46 L161.3,44.67 L162.49,43.86 L163.67,43.02 L164.82,42.15 L165.95,41.25 L167.06,40.33 L168.14,39.37 L169.2,38.39 L170.25,37.4 L171.28,36.38 L172.29,35.36 L173.29,34.31 L174.27,33.26 L175.24,32.19 L176.2,31.12 L177.17,30.05 L178.14,28.98 L179.11,27.91 L180.07,26.85 L181.04,25.78 L182,24.71 L182.97,23.64 L183.93,22.57" fill="none" stroke="#dc6ccc" stroke-width="0.75" stroke-linejoin="round" stroke-linecap="round"/>
<path d="M48.4,194.8 L48.94,193.47 L49.48,192.14 L50.02,190.81 L50.57,189.47 L51.11,188.14 L51.65,186.81 L52.19,185.48 L52.73,184.15 L53.27,182.82 L53.81,181.48 L54.34,180.15 L54.87,178.81 L55.41,177.48 L55.93,176.14 L56.46,174.81 L56.99,173.47 L57.52,172.13 L58.05,170.8 L58.59,169.46 L59.13,168.13 L59.67,166.8 L60.22,165.47 L60.77,164.15 L61.33,162.82 L61.9,161.5 L62.46,160.18 L63.03,158.86 L63.6,157.54 L64.17,156.22 L64.75,154.9 L65.32,153.58 L65.89,152.26 L66.45,150.94 L67.01,149.62 L67.57,148.3 L68.13,146.97 L68.69,145.65 L69.26,144.33 L69.82,143.01 L70.4,141.69 L70.98,140.38 L71.58,139.07 L72.19,137.77 L72.82,136.48 L73.47,135.19 L74.13,133.92 L74.8,132.65 L75.48,131.38 L76.17,130.12 L76.85,128.85 L77.54,127.59 L78.23,126.33 L78.93,125.08 L79.64,123.83 L80.36,122.58 L81.09,121.35 L81.85,120.13 L82.64,118.92 L83.43,117.72 L84.21,116.52 L84.95,115.28 L85.64,114.03 L86.29,112.74 L86.9,111.44 L87.5,110.13 L88.08,108.82 L88.66,107.51 L89.25,106.19 L89.85,104.89 L90.46,103.59 L91.07,102.29 L91.69,100.99 L92.3,99.69 L92.92,98.39 L93.54,97.09 L94.16,95.8 L94.79,94.51 L95.43,93.22 L96.07,91.93 L96.71,90.64 L97.35,89.36 L98,88.08 L98.65,86.79 L99.29,85.51 L99.93,84.22 L100.56,82.93 L101.18,81.63 L101.81,80.34 L102.45,79.05 L103.11,77.78 L103.8,76.52 L104.54,75.28 L105.31,74.07 L106.12,72.89 L106.97,71.73 L107.85,70.59 L108.76,69.47 L109.68,68.37 L110.62,67.28 L111.6,66.23 L112.65,65.25 L113.79,64.37 L115.01,63.63 L116.3,63 L117.63,62.43 L118.96,61.89 L120.28,61.33 L121.63,60.82 L122.98,60.34 L124.33,59.85 L125.68,59.35 L127.02,58.84 L128.37,58.34 L129.72,57.84 L131.06,57.34 L132.41,56.84 L133.76,56.33 L135.1,55.83 L136.45,55.33 L137.8,54.83 L139.14,54.32 L140.49,53.82 L141.84,53.33 L143.19,52.84 L144.54,52.35 L145.89,51.85 L147.24,51.35 L148.58,50.84 L149.92,50.31 L151.24,49.75 L152.55,49.16 L153.85,48.54 L155.12,47.88 L156.37,47.17 L157.61,46.44 L158.83,45.68 L160.04,44.9 L161.22,44.08 L162.39,43.24 L163.53,42.37 L164.65,41.47 L165.75,40.55 L166.82,39.59 L167.87,38.61 L168.9,37.6 L169.92,36.59 L170.92,35.56 L171.9,34.51 L172.86,33.44 L173.81,32.36 L174.76,31.28 L175.7,30.2 L176.65,29.12 L177.6,28.03 L178.54,26.95 L179.48,25.86 L180.42,24.77 L181.36,23.69 L182.3,22.6" fill="none" stroke="#e44444" stroke-width="0.75" stroke-linejoin="round" stroke-linecap="round"/>
<path d="M48.2,23.1 C48.22,25.08 48.18,31.52 48.3,35 C48.42,38.48 48.57,41.52 48.9,44 C49.23,46.48 49.3,47.4 50.3,49.9 C51.3,52.4 53.37,56.52 54.9,59 C56.43,61.48 58.17,62.88 59.5,64.8 C60.83,66.72 61.85,68.22 62.9,70.5 C63.95,72.78 65.03,75.63 65.8,78.5 C66.57,81.37 67.03,84.95 67.5,87.7 C67.97,90.45 68.3,92.78 68.6,95 C68.9,97.22 68.98,99.42 69.3,101 C69.62,102.58 69.67,103.42 70.5,104.5 C71.33,105.58 72.5,106.48 74.3,107.5 C76.1,108.52 79.12,109.72 81.3,110.6 C83.48,111.48 85.5,111.85 87.4,112.8 C89.3,113.75 90.6,114.73 92.7,116.3 C94.8,117.87 97.83,120.18 100,122.2 C102.17,124.22 103.78,126.42 105.7,128.4 C107.62,130.38 109.27,132.2 111.5,134.1 C113.73,136 116.57,138.37 119.1,139.8 C121.63,141.23 124.32,141.75 126.7,142.7 C129.08,143.65 131.02,144.55 133.4,145.5 C135.78,146.45 138.23,147.15 141,148.4 C143.77,149.65 147.15,151.15 150,153 C152.85,154.85 155.4,157.07 158.1,159.5 C160.8,161.93 163.48,164.77 166.2,167.6 C168.92,170.43 171.68,173.8 174.4,176.5 C177.12,179.2 179.8,181.5 182.5,183.8 C185.2,186.1 187.9,188.53 190.6,190.3 C193.3,192.07 195.87,193.27 198.7,194.4 C201.53,195.53 206.12,196.65 207.6,197.1" fill="none" stroke="#369c36" stroke-width="0.75" stroke-linejoin="round" stroke-linecap="round"/>
<path d="M48.2,30 C48.25,32 48.25,38.68 48.5,42 C48.75,45.32 48.92,47.07 49.7,49.9 C50.48,52.73 51.95,56.33 53.2,59 C54.45,61.67 55.97,63.6 57.2,65.9 C58.43,68.2 59.65,70.32 60.6,72.8 C61.55,75.28 62.23,77.1 62.9,80.8 C63.57,84.5 64.17,91.55 64.6,95 C65.03,98.45 65.02,99.75 65.5,101.5 C65.98,103.25 66.67,104.42 67.5,105.5 C68.33,106.58 68.93,107.2 70.5,108 C72.07,108.8 74.75,109.43 76.9,110.3 C79.05,111.17 81.32,112.02 83.4,113.2 C85.48,114.38 86.95,115.85 89.4,117.4 C91.85,118.95 95.43,120.67 98.1,122.5 C100.77,124.33 102.97,126.45 105.4,128.4 C107.83,130.35 110.5,132.38 112.7,134.2 C114.9,136.02 115.95,137.67 118.6,139.3 C121.25,140.93 125.33,142.5 128.6,144 C131.87,145.5 135.5,146.93 138.2,148.3 C140.9,149.67 142.83,150.88 144.8,152.2 C146.77,153.52 147.78,154.17 150,156.2 C152.22,158.23 155.4,161.68 158.1,164.4 C160.8,167.12 163.48,169.8 166.2,172.5 C168.92,175.2 171.68,177.9 174.4,180.6 C177.12,183.3 179.53,186.27 182.5,188.7 C185.47,191.13 189.5,193.72 192.2,195.2 C194.9,196.68 197.62,197.2 198.7,197.6" fill="none" stroke="#903444" stroke-width="0.75" stroke-linejoin="round" stroke-linecap="round"/>
<path d="M48.2,38 C48.27,39.42 48.35,43.18 48.6,46.5 C48.85,49.82 49.13,54.47 49.7,57.9 C50.27,61.33 51.13,64.05 52,67.1 C52.87,70.15 54.13,73.35 54.9,76.2 C55.67,79.05 56.03,81.07 56.6,84.2 C57.17,87.33 57.92,92.37 58.3,95 C58.68,97.63 58.65,98.2 58.9,100 C59.15,101.8 59.28,104.12 59.8,105.8 C60.32,107.48 60.62,108.93 62,110.1 C63.38,111.27 65.62,111.63 68.1,112.8 C70.58,113.97 74.7,116.15 76.9,117.1 C79.1,118.05 79.45,117.97 81.3,118.5 C83.15,119.03 86.17,119.52 88,120.3 C89.83,121.08 90.37,121.85 92.3,123.2 C94.23,124.55 97.17,126.57 99.6,128.4 C102.03,130.23 104.72,132.5 106.9,134.2 C109.08,135.9 110.67,137.37 112.7,138.6 C114.73,139.83 116.6,140.45 119.1,141.6 C121.6,142.75 125.32,143.88 127.7,145.5 C130.08,147.12 131.65,149.38 133.4,151.3 C135.15,153.22 136.62,155.1 138.2,157 C139.78,158.9 140.93,160.62 142.9,162.7 C144.87,164.78 147.47,167.02 150,169.5 C152.53,171.98 155.4,174.88 158.1,177.6 C160.8,180.32 163.48,183.4 166.2,185.8 C168.92,188.2 171.68,190.3 174.4,192 C177.12,193.7 179.98,195.15 182.5,196 C185.02,196.85 188.33,196.92 189.5,197.1" fill="none" stroke="#4444e8" stroke-width="0.75" stroke-linejoin="round" stroke-linecap="round"/>
<path d="M48.8,34.6 C48.85,36.1 48.93,41.12 49.1,43.6 C49.27,46.08 49.32,47 49.8,49.5 C50.28,52 51.15,55.55 52,58.6 C52.85,61.65 53.93,64.73 54.9,67.8 C55.87,70.87 56.93,74.13 57.8,77 C58.67,79.87 59.53,82.07 60.1,85 C60.67,87.93 60.87,91.92 61.2,94.6 C61.53,97.28 61.72,99.45 62.1,101.1 C62.48,102.75 62.68,103.35 63.5,104.5 C64.32,105.65 65.4,107.12 67,108 C68.6,108.88 70.62,108.93 73.1,109.8 C75.58,110.67 79.45,111.88 81.9,113.2 C84.35,114.52 85.97,116.45 87.8,117.7 C89.63,118.95 90.83,119.23 92.9,120.7 C94.97,122.17 97.77,124.43 100.2,126.5 C102.63,128.57 105.07,131.03 107.5,133.1 C109.93,135.17 112.7,137.55 114.8,138.9 C116.9,140.25 118.02,140.28 120.1,141.2 C122.18,142.12 125.15,143.1 127.3,144.4 C129.45,145.7 131.08,147.28 133,149 C134.92,150.72 137.05,152.8 138.8,154.7 C140.55,156.6 141.53,158.22 143.5,160.4 C145.47,162.58 148.07,165.18 150.6,167.8 C153.13,170.42 156,173.33 158.7,176.1 C161.4,178.87 164.08,181.95 166.8,184.4 C169.52,186.85 172.53,189.05 175,190.8 C177.47,192.55 179.5,193.93 181.6,194.9 C183.7,195.87 186.6,196.32 187.6,196.6" fill="none" stroke="#dc6ccc" stroke-width="0.75" stroke-linejoin="round" stroke-linecap="round"/>
<path d="M48.2,35 C48.25,36.5 48.33,41.52 48.5,44 C48.67,46.48 48.72,47.4 49.2,49.9 C49.68,52.4 50.55,55.95 51.4,59 C52.25,62.05 53.33,65.13 54.3,68.2 C55.27,71.27 56.33,74.53 57.2,77.4 C58.07,80.27 58.93,82.47 59.5,85.4 C60.07,88.33 60.27,92.32 60.6,95 C60.93,97.68 61.12,99.85 61.5,101.5 C61.88,103.15 62.08,103.75 62.9,104.9 C63.72,106.05 64.8,107.52 66.4,108.4 C68,109.28 70.02,109.33 72.5,110.2 C74.98,111.07 78.85,112.28 81.3,113.6 C83.75,114.92 85.37,116.85 87.2,118.1 C89.03,119.35 90.23,119.63 92.3,121.1 C94.37,122.57 97.17,124.83 99.6,126.9 C102.03,128.97 104.47,131.43 106.9,133.5 C109.33,135.57 112.1,137.95 114.2,139.3 C116.3,140.65 117.42,140.68 119.5,141.6 C121.58,142.52 124.55,143.5 126.7,144.8 C128.85,146.1 130.48,147.68 132.4,149.4 C134.32,151.12 136.45,153.2 138.2,155.1 C139.95,157 140.93,158.62 142.9,160.8 C144.87,162.98 147.47,165.58 150,168.2 C152.53,170.82 155.4,173.73 158.1,176.5 C160.8,179.27 163.48,182.35 166.2,184.8 C168.92,187.25 171.93,189.45 174.4,191.2 C176.87,192.95 178.9,194.33 181,195.3 C183.1,196.27 186,196.72 187,197" fill="none" stroke="#e44444" stroke-width="0.75" stroke-linejoin="round" stroke-linecap="round"/>
<line x1="73" y1="72.6" x2="78.9" y2="72.6" stroke="#777" stroke-width="0.8"/>
<path d="M68,72.6 L73,74.3 L73,70.9 Z" fill="#111"/>
<text x="79.9" y="76.7" font-size="10.3" text-anchor="start" fill="#262626" >2.16</text>
<line x1="138.6" y1="66.8" x2="143.9" y2="66.8" stroke="#777" stroke-width="0.8"/>
<path d="M133.6,66.8 L138.6,68.5 L138.6,65.1 Z" fill="#111"/>
<text x="147" y="71.2" font-size="10.3" text-anchor="start" fill="#262626" >2.20</text>
<line x1="183.2" y1="44.6" x2="189.6" y2="44.6" stroke="#777" stroke-width="0.8"/>
<path d="M178.2,44.6 L183.2,46.3 L183.2,42.9 Z" fill="#111"/>
<text x="191" y="48.6" font-size="10.3" text-anchor="start" fill="#262626" >2.56</text>
<line x1="104.1" y1="112.6" x2="109.3" y2="112.6" stroke="#777" stroke-width="0.8"/>
<path d="M99.1,112.6 L104.1,114.3 L104.1,110.9 Z" fill="#111"/>
<text x="112.2" y="116.6" font-size="10.3" text-anchor="start" fill="#262626" >1.50</text>
<line x1="133.2" y1="127.5" x2="137.3" y2="127.5" stroke="#777" stroke-width="0.8"/>
<path d="M128.2,127.5 L133.2,129.2 L133.2,125.8 Z" fill="#111"/>
<text x="139.4" y="130.1" font-size="10.3" text-anchor="start" fill="#262626" >1.26</text>
<line x1="172.1" y1="142" x2="179.3" y2="142" stroke="#777" stroke-width="0.8"/>
<path d="M167.1,142 L172.1,143.7 L172.1,140.3 Z" fill="#111"/>
<text x="181.8" y="145.5" font-size="10.3" text-anchor="start" fill="#262626" >0.85</text>
<line x1="181.26" y1="202.94" x2="178.6" y2="205.6" stroke="#777" stroke-width="0.8"/>
<path d="M184.8,199.4 L180.06,201.73 L182.47,204.14 Z" fill="#111"/>
<text x="165.2" y="216.8" font-size="10.3" fill="#262626">10<tspan font-size="6.5" dy="-4.2">th</tspan></text>
<line x1="193.9" y1="203.43" x2="194.7" y2="206.4" stroke="#777" stroke-width="0.8"/>
<path d="M192.6,198.6 L192.26,203.87 L195.54,202.99 Z" fill="#111"/>
<text x="191.2" y="216.8" font-size="10.3" fill="#262626">2<tspan font-size="6.5" dy="-4.2">nd</tspan></text>
<line x1="205.93" y1="202.27" x2="213.4" y2="207" stroke="#777" stroke-width="0.8"/>
<path d="M201.7,199.6 L205.02,203.71 L206.83,200.84 Z" fill="#111"/>
<text x="210.6" y="216.8" font-size="10.3" fill="#262626">50<tspan font-size="6.5" dy="-4.2">th</tspan></text>
<line x1="214.33" y1="200.21" x2="232" y2="206.2" stroke="#777" stroke-width="0.8"/>
<path d="M209.6,198.6 L213.79,201.82 L214.88,198.6 Z" fill="#111"/>
<text x="235.4" y="216.8" font-size="10.3" fill="#262626">100<tspan font-size="6.5" dy="-4.2">th</tspan></text>
<line x1="305.72" y1="200.58" x2="314.4" y2="206.1" stroke="#777" stroke-width="0.8"/>
<path d="M301.5,197.9 L304.81,202.02 L306.63,199.15 Z" fill="#111"/>
<text x="315.2" y="214.8" font-size="10.3" fill="#262626">1<tspan font-size="6.5" dy="-4.2">st</tspan></text>
<path d="M50.5,328.1 C50.52,329.08 50.53,332.17 50.6,334 C50.67,335.83 50.57,336.82 50.9,339.1 C51.23,341.38 51.83,345.15 52.6,347.7 C53.37,350.25 54.38,352.33 55.5,354.4 C56.62,356.47 58.03,358.67 59.3,360.1 C60.57,361.53 61.65,362.1 63.1,363 C64.55,363.9 66.18,364.7 68,365.5 C69.82,366.3 72,367.13 74,367.8 C76,368.47 77.33,368.47 80,369.5 C82.67,370.53 86.1,372.35 90,374 C93.9,375.65 98.95,377.62 103.4,379.4 C107.85,381.18 112.25,383.03 116.7,384.7 C121.15,386.37 126.35,388.27 130.1,389.4 C133.85,390.53 135.88,390.62 139.2,391.5 C142.52,392.38 147.1,393.95 150,394.7 C152.9,395.45 154.27,395.4 156.6,396 C158.93,396.6 161.52,397.43 164,398.3 C166.48,399.17 168.83,400.12 171.5,401.2 C174.17,402.28 176.92,403.43 180,404.8 C183.08,406.17 186.58,408.27 190,409.4 C193.42,410.53 197,410.73 200.5,411.6 C204,412.47 206.92,413.22 211,414.6 C215.08,415.98 221.2,418.15 225,419.9 C228.8,421.65 230.28,423.42 233.8,425.1 C237.32,426.78 242.3,428.3 246.1,430 C249.9,431.7 253.1,433.25 256.6,435.3 C260.1,437.35 263.6,440.12 267.1,442.3 C270.6,444.48 274.1,446.57 277.6,448.4 C281.1,450.23 284.88,451.83 288.1,453.3 C291.32,454.77 295.43,456.55 296.9,457.2" fill="none" stroke="#2a2a2a" stroke-width="0.75" stroke-linejoin="round" stroke-linecap="round"/>
<path d="M51,452 C51.08,450.83 51.33,447.22 51.5,445 C51.67,442.78 51.77,441.75 52,438.7 C52.23,435.65 52.18,430.98 52.9,426.7 C53.62,422.42 55.02,417.3 56.3,413 C57.58,408.7 59.1,404.82 60.6,400.9 C62.1,396.98 63.82,392.98 65.3,389.5 C66.78,386.02 67.68,383.55 69.5,380 C71.32,376.45 73.8,372.23 76.2,368.2 C78.6,364.17 81.35,359.78 83.9,355.8 C86.45,351.82 89.43,347.48 91.5,344.3 C93.57,341.12 94.88,338.92 96.3,336.7 C97.72,334.48 98.47,333.03 100,331 C101.53,328.97 103.55,326.52 105.5,324.5 C107.45,322.48 108.72,321 111.7,318.9 C114.68,316.8 119.52,314.23 123.4,311.9 C127.28,309.57 131.12,307.63 135,304.9 C138.88,302.17 143.2,298.43 146.7,295.5 C150.2,292.57 153.67,289.43 156,287.3 C158.33,285.17 159.92,283.47 160.7,282.7" fill="none" stroke="#2a2a2a" stroke-width="0.75" stroke-linejoin="round" stroke-linecap="round"/>
<path d="M50.9,287.9 C50.9,290.08 50.82,297.82 50.9,301 C50.98,304.18 51.08,304.67 51.4,307 C51.72,309.33 52.32,312.5 52.8,315 C53.28,317.5 53.72,318.67 54.3,322 C54.88,325.33 55.75,331.17 56.3,335 C56.85,338.83 57.22,342 57.6,345 C57.98,348 58.32,350.4 58.6,353 C58.88,355.6 58.68,358.3 59.3,360.6 C59.92,362.9 60.97,365.32 62.3,366.8 C63.63,368.28 65.63,368.8 67.3,369.5 C68.97,370.2 70.65,370.35 72.3,371 C73.95,371.65 75.55,372.32 77.2,373.4 C78.85,374.48 80.07,375.17 82.2,377.5 C84.33,379.83 87.37,383.97 90,387.4 C92.63,390.83 95.1,394.98 98,398.1 C100.9,401.22 104.28,404.1 107.4,406.1 C110.52,408.1 113.58,408.32 116.7,410.1 C119.82,411.88 123.2,414.13 126.1,416.8 C129,419.47 131.65,422.77 134.1,426.1 C136.55,429.43 138.65,434.02 140.8,436.8 C142.95,439.58 144.8,440.63 147,442.8 C149.2,444.97 151.82,447.77 154,449.8 C156.18,451.83 158.2,453.68 160.1,455 C162,456.32 164.52,457.25 165.4,457.7" fill="none" stroke="#369c36" stroke-width="0.75" stroke-linejoin="round" stroke-linecap="round"/>
<path d="M50.7,295 C50.78,296.67 50.87,301.83 51.2,305 C51.53,308.17 52.22,311.18 52.7,314 C53.18,316.82 53.52,318.4 54.1,321.9 C54.68,325.4 55.63,331.15 56.2,335 C56.77,338.85 57.1,341.67 57.5,345 C57.9,348.33 58.25,352.25 58.6,355 C58.95,357.75 58.98,359.67 59.6,361.5 C60.22,363.33 60.57,364.83 62.3,366 C64.03,367.17 67.38,367.58 70,368.5 C72.62,369.42 75.67,370.25 78,371.5 C80.33,372.75 82,373.68 84,376 C86,378.32 87.22,381.72 90,385.4 C92.78,389.08 97.13,394.53 100.7,398.1 C104.27,401.67 108.07,404.58 111.4,406.8 C114.73,409.02 117.37,409.07 120.7,411.4 C124.03,413.73 127.83,417.45 131.4,420.8 C134.97,424.15 139.5,428.72 142.1,431.5 C144.7,434.28 144.72,435.03 147,437.5 C149.28,439.97 153.03,443.67 155.8,446.3 C158.57,448.93 161.2,451.4 163.6,453.3 C166,455.2 169.1,456.97 170.2,457.7" fill="none" stroke="#903444" stroke-width="0.75" stroke-linejoin="round" stroke-linecap="round"/>
<path d="M50.9,300 C50.95,301 51.08,303.67 51.2,306 C51.32,308.33 51.47,311.35 51.6,314 C51.73,316.65 51.87,318.83 52,321.9 C52.13,324.97 52.13,328.73 52.4,332.4 C52.67,336.07 53.08,340.4 53.6,343.9 C54.12,347.4 54.95,350.22 55.5,353.4 C56.05,356.58 56.5,360.23 56.9,363 C57.3,365.77 57.52,368.17 57.9,370 C58.28,371.83 58.52,373.17 59.2,374 C59.88,374.83 61.07,374.78 62,375 C62.93,375.22 63.1,375.15 64.8,375.3 C66.5,375.45 69.72,375.38 72.2,375.9 C74.68,376.42 77.73,377.63 79.7,378.4 C81.67,379.17 82.28,379.45 84,380.5 C85.72,381.55 87.43,382.22 90,384.7 C92.57,387.18 96.07,392.07 99.4,395.4 C102.73,398.73 106.67,402.25 110,404.7 C113.33,407.15 116.05,407.87 119.4,410.1 C122.75,412.33 126.53,414.98 130.1,418.1 C133.67,421.22 137.98,426.15 140.8,428.8 C143.62,431.45 144.5,431.82 147,434 C149.5,436.18 152.58,439.42 155.8,441.9 C159.02,444.38 163.1,446.93 166.3,448.9 C169.5,450.87 172.38,452.32 175,453.7 C177.62,455.08 180.83,456.62 182,457.2" fill="none" stroke="#4444e8" stroke-width="0.75" stroke-linejoin="round" stroke-linecap="round"/>
<path d="M50.4,300 C50.5,301.67 50.65,306.67 51,310 C51.35,313.33 52,316.67 52.5,320 C53,323.33 53.5,326.67 54,330 C54.5,333.33 54.93,336.7 55.5,340 C56.07,343.3 56.88,346.8 57.4,349.8 C57.92,352.8 58.2,355.52 58.6,358 C59,360.48 58.77,362.75 59.8,364.7 C60.83,366.65 61.9,368.45 64.8,369.7 C67.7,370.95 74,371.4 77.2,372.2 C80.4,373 81.87,373.3 84,374.5 C86.13,375.7 87.22,377.25 90,379.4 C92.78,381.55 97.37,384.52 100.7,387.4 C104.03,390.28 107.33,394.25 110,396.7 C112.67,399.15 114.02,400.53 116.7,402.1 C119.38,403.67 123.2,404.77 126.1,406.1 C129,407.43 131.2,408.32 134.1,410.1 C137,411.88 140.33,413.83 143.5,416.8 C146.67,419.77 150.33,424.73 153.1,427.9 C155.87,431.07 157.62,433.03 160.1,435.8 C162.58,438.57 165.22,441.88 168,444.5 C170.78,447.12 173.43,449.3 176.8,451.5 C180.17,453.7 186.3,456.67 188.2,457.7" fill="none" stroke="#e44444" stroke-width="0.75" stroke-linejoin="round" stroke-linecap="round"/>
<path d="M50.3,455 C50.75,453.67 52,450 53,447 C54,444 55.03,440.67 56.3,437 C57.57,433.33 59.02,429.3 60.6,425 C62.18,420.7 64.08,415.5 65.8,411.2 C67.52,406.9 69.18,402.92 70.9,399.2 C72.62,395.48 74.6,392.43 76.1,388.9 C77.6,385.37 78.47,381.15 79.9,378 C81.33,374.85 82.92,373.32 84.7,370 C86.48,366.68 88.8,361.77 90.6,358.1 C92.4,354.43 93.98,351.07 95.5,348 C97.02,344.93 98.28,342.28 99.7,339.7 C101.12,337.12 102.45,334.87 104,332.5 C105.55,330.13 107.33,327.58 109,325.5 C110.67,323.42 111.22,322.17 114,320 C116.78,317.83 121.8,314.93 125.7,312.5 C129.6,310.07 133.52,308.23 137.4,305.4 C141.28,302.57 145.5,298.7 149,295.5 C152.5,292.3 155.87,288.33 158.4,286.2 C160.93,284.07 163.23,283.28 164.2,282.7" fill="none" stroke="#369c36" stroke-width="0.75" stroke-linejoin="round" stroke-linecap="round"/>
<path d="M50.5,454 C50.95,452.67 52.18,449 53.2,446 C54.22,443 55.33,439.67 56.6,436 C57.87,432.33 59.23,428.25 60.8,424 C62.37,419.75 64.27,414.75 66,410.5 C67.73,406.25 69.47,402.2 71.2,398.5 C72.93,394.8 74.85,391.8 76.4,388.3 C77.95,384.8 79.07,380.58 80.5,377.5 C81.93,374.42 83.17,373.08 85,369.8 C86.83,366.52 89.58,361.52 91.5,357.8 C93.42,354.08 94.95,350.58 96.5,347.5 C98.05,344.42 99.38,341.8 100.8,339.3 C102.22,336.8 103.38,334.88 105,332.5 C106.62,330.12 108.42,327.27 110.5,325 C112.58,322.73 114.38,320.9 117.5,318.9 C120.62,316.9 125.3,314.95 129.2,313 C133.1,311.05 137,309.53 140.9,307.2 C144.8,304.87 148.9,301.92 152.6,299 C156.3,296.08 160.28,292.42 163.1,289.7 C165.92,286.98 168.43,283.87 169.5,282.7" fill="none" stroke="#903444" stroke-width="0.75" stroke-linejoin="round" stroke-linecap="round"/>
<path d="M51.2,452 C51.25,451.5 51.22,451.78 51.5,449 C51.78,446.22 51.95,439.88 52.9,435.3 C53.85,430.72 55.63,426.08 57.2,421.5 C58.77,416.92 60.43,412.37 62.3,407.8 C64.17,403.23 66.38,398.12 68.4,394.1 C70.42,390.08 72.55,386.85 74.4,383.7 C76.25,380.55 78.07,377.48 79.5,375.2 C80.93,372.92 81.92,371.53 83,370 C84.08,368.47 84.23,368.25 86,366 C87.77,363.75 91.52,359.75 93.6,356.5 C95.68,353.25 96.97,349.55 98.5,346.5 C100.03,343.45 101.38,340.62 102.8,338.2 C104.22,335.78 105.47,334.12 107,332 C108.53,329.88 110.25,327.5 112,325.5 C113.75,323.5 114.63,321.88 117.5,320 C120.37,318.12 125.3,315.95 129.2,314.2 C133.1,312.45 137,311.35 140.9,309.5 C144.8,307.65 148.72,305.62 152.6,303.1 C156.48,300.58 160.52,297.8 164.2,294.4 C167.88,291 172.95,284.65 174.7,282.7" fill="none" stroke="#4444e8" stroke-width="0.75" stroke-linejoin="round" stroke-linecap="round"/>
<path d="M50.6,456 C51,454.67 51.97,451.17 53,448 C54.03,444.83 55.47,440.83 56.8,437 C58.13,433.17 59.42,429.3 61,425 C62.58,420.7 64.55,415.5 66.3,411.2 C68.05,406.9 69.75,402.92 71.5,399.2 C73.25,395.48 75.08,392.33 76.8,388.9 C78.52,385.47 80.2,381.75 81.8,378.6 C83.4,375.45 85.03,372.1 86.4,370 C87.77,367.9 88.28,368.25 90,366 C91.72,363.75 94.78,359.67 96.7,356.5 C98.62,353.33 99.97,349.8 101.5,347 C103.03,344.2 104.57,341.9 105.9,339.7 C107.23,337.5 108.23,335.62 109.5,333.8 C110.77,331.98 112.17,330.23 113.5,328.8 C114.83,327.37 116.08,326.42 117.5,325.2 C118.92,323.98 120.05,322.75 122,321.5 C123.95,320.25 126.05,319.12 129.2,317.7 C132.35,316.28 137,314.55 140.9,313 C144.8,311.45 148.72,310.33 152.6,308.4 C156.48,306.47 160.97,303.58 164.2,301.4 C167.43,299.22 169.37,297.45 172,295.3 C174.63,293.15 177.73,290.6 180,288.5 C182.27,286.4 184.67,283.67 185.6,282.7" fill="none" stroke="#e44444" stroke-width="0.75" stroke-linejoin="round" stroke-linecap="round"/>
<line x1="158.83" y1="462.48" x2="155.7" y2="465.2" stroke="#777" stroke-width="0.8"/>
<path d="M162.6,459.2 L157.71,461.2 L159.94,463.76 Z" fill="#111"/>
<text x="142" y="479.4" font-size="10.3" fill="#262626">100<tspan font-size="6.5" dy="-4.2">th</tspan></text>
<line x1="169.81" y1="464.35" x2="169.6" y2="465.9" stroke="#777" stroke-width="0.8"/>
<path d="M170.5,459.4 L168.13,464.12 L171.5,464.59 Z" fill="#111"/>
<text x="164.8" y="479.4" font-size="10.3" fill="#262626">50<tspan font-size="6.5" dy="-4.2">th</tspan></text>
<line x1="185.67" y1="463.75" x2="186.9" y2="465.9" stroke="#777" stroke-width="0.8"/>
<path d="M183.2,459.4 L184.2,464.59 L187.15,462.9 Z" fill="#111"/>
<text x="186.6" y="479.4" font-size="10.3" fill="#262626">2<tspan font-size="6.5" dy="-4.2">nd</tspan></text>
<line x1="196.62" y1="461.71" x2="204.5" y2="466.3" stroke="#777" stroke-width="0.8"/>
<path d="M192.3,459.2 L195.77,463.18 L197.48,460.25 Z" fill="#111"/>
<text x="206.2" y="479.4" font-size="10.3" fill="#262626">10<tspan font-size="6.5" dy="-4.2">th</tspan></text>
<line x1="302.45" y1="462.42" x2="306.6" y2="466.3" stroke="#777" stroke-width="0.8"/>
<path d="M298.8,459 L301.29,463.66 L303.61,461.18 Z" fill="#111"/>
<text x="309.2" y="478" font-size="10.3" fill="#262626">1<tspan font-size="6.5" dy="-4.2">st</tspan></text>
<path d="M398.2,115.12 L400.8,115.91 L403.39,113.76 L405.99,114.72 L408.59,115.28 L411.19,109.44 L413.79,116.17 L416.38,116.46 L418.98,115.82 L421.58,116.47 L424.18,116.33 L426.78,115.18 L429.37,115.77 L431.97,115.26 L434.57,115.68 L437.17,115.1 L439.77,115.18 L442.36,114.95 L444.96,114.19 L447.56,114.25 L450.16,114.24 L452.76,113.74 L455.35,114.12 L457.95,113.24 L460.55,113.38 L463.15,113.18 L465.75,113.17 L468.34,112.77 L470.94,112.78 L473.54,111.92 L476.14,111.34 L478.74,111.65 L481.33,111.08 L483.93,111.14 L486.53,110.71 L489.13,110.69 L491.73,110.06 L494.32,109.8 L496.92,110 L499.52,109.88 L502.12,109.49 L504.72,108.38 L507.31,109 L509.91,106.61 L512.51,106.56 L515.11,106.47 L517.71,106.42 L520.3,105.89 L522.9,105.84 L525.5,105.66 L528.1,105.03 L530.7,104.82 L533.29,104.79 L535.89,104.49 L538.49,104.16 L541.09,103.88 L543.69,104.43 L546.28,103.51 L548.88,103.76 L551.48,103.6 L554.08,103.56 L556.68,103.2 L559.27,103.77 L561.87,103.32 L564.47,103.49 L567.07,103.36 L569.67,103.64 L572.26,102.53 L574.86,102.3 L577.46,103.33 L580.06,102.6 L582.66,102.47 L585.25,102.67 L587.85,102.35 L590.45,102.16 L593.05,102.11 L595.65,102.55 L598.24,101.68 L600.84,102.36 L603.44,101.67 L606.04,101.83 L608.64,101.29 L611.23,101.11 L613.83,101.06 L616.43,101.04 L619.03,101.57 L621.63,101.04 L624.22,100.55 L626.82,100.82 L629.42,100.92 L632.02,100.31 L634.62,100.05 L637.21,100.74 L639.81,100.38 L642.41,99.56 L645.01,99.99 L647.61,99.46 L650.2,99.53 L652.8,99.79 L655.4,99.69 L658,99.58 L660.6,99" fill="none" stroke="#333" stroke-width="0.8"/>
<rect x="395.9" y="112.82" width="4.6" height="4.6" fill="#000"/>
<rect x="398.5" y="113.61" width="4.6" height="4.6" fill="#000"/>
<rect x="401.09" y="111.46" width="4.6" height="4.6" fill="#000"/>
<rect x="403.69" y="112.42" width="4.6" height="4.6" fill="#000"/>
<rect x="406.29" y="112.98" width="4.6" height="4.6" fill="#000"/>
<rect x="408.89" y="107.14" width="4.6" height="4.6" fill="#000"/>
<rect x="411.49" y="113.87" width="4.6" height="4.6" fill="#000"/>
<rect x="414.08" y="114.16" width="4.6" height="4.6" fill="#000"/>
<rect x="416.68" y="113.52" width="4.6" height="4.6" fill="#000"/>
<rect x="419.28" y="114.17" width="4.6" height="4.6" fill="#000"/>
<rect x="421.88" y="114.03" width="4.6" height="4.6" fill="#000"/>
<rect x="424.48" y="112.88" width="4.6" height="4.6" fill="#000"/>
<rect x="427.07" y="113.47" width="4.6" height="4.6" fill="#000"/>
<rect x="429.67" y="112.96" width="4.6" height="4.6" fill="#000"/>
<rect x="432.27" y="113.38" width="4.6" height="4.6" fill="#000"/>
<rect x="434.87" y="112.8" width="4.6" height="4.6" fill="#000"/>
<rect x="437.47" y="112.88" width="4.6" height="4.6" fill="#000"/>
<rect x="440.06" y="112.65" width="4.6" height="4.6" fill="#000"/>
<rect x="442.66" y="111.89" width="4.6" height="4.6" fill="#000"/>
<rect x="445.26" y="111.95" width="4.6" height="4.6" fill="#000"/>
<rect x="447.86" y="111.94" width="4.6" height="4.6" fill="#000"/>
<rect x="450.46" y="111.44" width="4.6" height="4.6" fill="#000"/>
<rect x="453.05" y="111.82" width="4.6" height="4.6" fill="#000"/>
<rect x="455.65" y="110.94" width="4.6" height="4.6" fill="#000"/>
<rect x="458.25" y="111.08" width="4.6" height="4.6" fill="#000"/>
<rect x="460.85" y="110.88" width="4.6" height="4.6" fill="#000"/>
<rect x="463.45" y="110.87" width="4.6" height="4.6" fill="#000"/>
<rect x="466.04" y="110.47" width="4.6" height="4.6" fill="#000"/>
<rect x="468.64" y="110.48" width="4.6" height="4.6" fill="#000"/>
<rect x="471.24" y="109.62" width="4.6" height="4.6" fill="#000"/>
<rect x="473.84" y="109.04" width="4.6" height="4.6" fill="#000"/>
<rect x="476.44" y="109.35" width="4.6" height="4.6" fill="#000"/>
<rect x="479.03" y="108.78" width="4.6" height="4.6" fill="#000"/>
<rect x="481.63" y="108.84" width="4.6" height="4.6" fill="#000"/>
<rect x="484.23" y="108.41" width="4.6" height="4.6" fill="#000"/>
<rect x="486.83" y="108.39" width="4.6" height="4.6" fill="#000"/>
<rect x="489.43" y="107.76" width="4.6" height="4.6" fill="#000"/>
<rect x="492.02" y="107.5" width="4.6" height="4.6" fill="#000"/>
<rect x="494.62" y="107.7" width="4.6" height="4.6" fill="#000"/>
<rect x="497.22" y="107.58" width="4.6" height="4.6" fill="#000"/>
<rect x="499.82" y="107.19" width="4.6" height="4.6" fill="#000"/>
<rect x="502.42" y="106.08" width="4.6" height="4.6" fill="#000"/>
<rect x="505.01" y="106.7" width="4.6" height="4.6" fill="#000"/>
<rect x="507.61" y="104.31" width="4.6" height="4.6" fill="#000"/>
<rect x="510.21" y="104.26" width="4.6" height="4.6" fill="#000"/>
<rect x="512.81" y="104.17" width="4.6" height="4.6" fill="#000"/>
<rect x="515.41" y="104.12" width="4.6" height="4.6" fill="#000"/>
<rect x="518" y="103.59" width="4.6" height="4.6" fill="#000"/>
<rect x="520.6" y="103.54" width="4.6" height="4.6" fill="#000"/>
<rect x="523.2" y="103.36" width="4.6" height="4.6" fill="#000"/>
<rect x="525.8" y="102.73" width="4.6" height="4.6" fill="#000"/>
<rect x="528.4" y="102.52" width="4.6" height="4.6" fill="#000"/>
<rect x="530.99" y="102.49" width="4.6" height="4.6" fill="#000"/>
<rect x="533.59" y="102.19" width="4.6" height="4.6" fill="#000"/>
<rect x="536.19" y="101.86" width="4.6" height="4.6" fill="#000"/>
<rect x="538.79" y="101.58" width="4.6" height="4.6" fill="#000"/>
<rect x="541.39" y="102.13" width="4.6" height="4.6" fill="#000"/>
<rect x="543.98" y="101.21" width="4.6" height="4.6" fill="#000"/>
<rect x="546.58" y="101.46" width="4.6" height="4.6" fill="#000"/>
<rect x="549.18" y="101.3" width="4.6" height="4.6" fill="#000"/>
<rect x="551.78" y="101.26" width="4.6" height="4.6" fill="#000"/>
<rect x="554.38" y="100.9" width="4.6" height="4.6" fill="#000"/>
<rect x="556.97" y="101.47" width="4.6" height="4.6" fill="#000"/>
<rect x="559.57" y="101.02" width="4.6" height="4.6" fill="#000"/>
<rect x="562.17" y="101.19" width="4.6" height="4.6" fill="#000"/>
<rect x="564.77" y="101.06" width="4.6" height="4.6" fill="#000"/>
<rect x="567.37" y="101.34" width="4.6" height="4.6" fill="#000"/>
<rect x="569.96" y="100.23" width="4.6" height="4.6" fill="#000"/>
<rect x="572.56" y="100" width="4.6" height="4.6" fill="#000"/>
<rect x="575.16" y="101.03" width="4.6" height="4.6" fill="#000"/>
<rect x="577.76" y="100.3" width="4.6" height="4.6" fill="#000"/>
<rect x="580.36" y="100.17" width="4.6" height="4.6" fill="#000"/>
<rect x="582.95" y="100.37" width="4.6" height="4.6" fill="#000"/>
<rect x="585.55" y="100.05" width="4.6" height="4.6" fill="#000"/>
<rect x="588.15" y="99.86" width="4.6" height="4.6" fill="#000"/>
<rect x="590.75" y="99.81" width="4.6" height="4.6" fill="#000"/>
<rect x="593.35" y="100.25" width="4.6" height="4.6" fill="#000"/>
<rect x="595.94" y="99.38" width="4.6" height="4.6" fill="#000"/>
<rect x="598.54" y="100.06" width="4.6" height="4.6" fill="#000"/>
<rect x="601.14" y="99.37" width="4.6" height="4.6" fill="#000"/>
<rect x="603.74" y="99.53" width="4.6" height="4.6" fill="#000"/>
<rect x="606.34" y="98.99" width="4.6" height="4.6" fill="#000"/>
<rect x="608.93" y="98.81" width="4.6" height="4.6" fill="#000"/>
<rect x="611.53" y="98.76" width="4.6" height="4.6" fill="#000"/>
<rect x="614.13" y="98.74" width="4.6" height="4.6" fill="#000"/>
<rect x="616.73" y="99.27" width="4.6" height="4.6" fill="#000"/>
<rect x="619.33" y="98.74" width="4.6" height="4.6" fill="#000"/>
<rect x="621.92" y="98.25" width="4.6" height="4.6" fill="#000"/>
<rect x="624.52" y="98.52" width="4.6" height="4.6" fill="#000"/>
<rect x="627.12" y="98.62" width="4.6" height="4.6" fill="#000"/>
<rect x="629.72" y="98.01" width="4.6" height="4.6" fill="#000"/>
<rect x="632.32" y="97.75" width="4.6" height="4.6" fill="#000"/>
<rect x="634.91" y="98.44" width="4.6" height="4.6" fill="#000"/>
<rect x="637.51" y="98.08" width="4.6" height="4.6" fill="#000"/>
<rect x="640.11" y="97.26" width="4.6" height="4.6" fill="#000"/>
<rect x="642.71" y="97.69" width="4.6" height="4.6" fill="#000"/>
<rect x="645.31" y="97.16" width="4.6" height="4.6" fill="#000"/>
<rect x="647.9" y="97.23" width="4.6" height="4.6" fill="#000"/>
<rect x="650.5" y="97.49" width="4.6" height="4.6" fill="#000"/>
<rect x="653.1" y="97.39" width="4.6" height="4.6" fill="#000"/>
<rect x="655.7" y="97.28" width="4.6" height="4.6" fill="#000"/>
<rect x="658.3" y="96.7" width="4.6" height="4.6" fill="#000"/>
<path d="M398.2,19.38 L400.8,109.8 L403.39,111.46 L405.99,112.38 L408.59,112.99 L411.19,113.17 L413.79,113.81 L416.38,114.05 L418.98,113.59 L421.58,113.93 L424.18,113.83 L426.78,113.11 L429.37,113.41 L431.97,112.92 L434.57,113 L437.17,112.68 L439.77,112.86 L442.36,112.28 L444.96,111.89 L447.56,111.97 L450.16,111.59 L452.76,111.45 L455.35,111.73 L457.95,110.98 L460.55,110.91 L463.15,110.94 L465.75,110.95 L468.34,110.1 L470.94,110.13 L473.54,109.66 L476.14,109.26 L478.74,109.12 L481.33,108.68 L483.93,108.82 L486.53,108.23 L489.13,108.24 L491.73,107.58 L494.32,107.35 L496.92,107.69 L499.52,107.39 L502.12,107.05 L504.72,106.18 L507.31,106.33 L509.91,104.28 L512.51,104.34 L515.11,103.98 L517.71,103.88 L520.3,103.71 L522.9,103.31 L525.5,103.09 L528.1,102.62 L530.7,102.58 L533.29,102.16 L535.89,102 L538.49,101.68 L541.09,101.72 L543.69,102.02 L546.28,101.36 L548.88,101.18 L551.48,101.13 L554.08,101.29 L556.68,101.07 L559.27,101.37 L561.87,100.78 L564.47,100.88 L567.07,101.01 L569.67,101.08 L572.26,100.35 L574.86,100.14 L577.46,100.76 L580.06,100.09 L582.66,100.29 L585.25,100.39 L587.85,100.17 L590.45,99.69 L593.05,99.5 L595.65,100.05 L598.24,99.5 L600.84,99.84 L603.44,99.2 L606.04,99.4 L608.64,98.87 L611.23,98.68 L613.83,98.95 L616.43,98.46 L619.03,98.88 L621.63,98.95 L624.22,98.42 L626.82,98.76 L629.42,98.51 L632.02,98.23 L634.62,97.95 L637.21,98.19 L639.81,98.17 L642.41,97.4 L645.01,97.72 L647.61,97.1 L650.2,97.03 L652.8,97.32 L655.4,97.14 L658,96.94 L660.6,96.68" fill="none" stroke="#f07070" stroke-width="0.8"/>
<circle cx="398.2" cy="19.38" r="2.6" fill="#f00000"/>
<circle cx="400.8" cy="109.8" r="2.6" fill="#f00000"/>
<circle cx="403.39" cy="111.46" r="2.6" fill="#f00000"/>
<circle cx="405.99" cy="112.38" r="2.6" fill="#f00000"/>
<circle cx="408.59" cy="112.99" r="2.6" fill="#f00000"/>
<circle cx="411.19" cy="113.17" r="2.6" fill="#f00000"/>
<circle cx="413.79" cy="113.81" r="2.6" fill="#f00000"/>
<circle cx="416.38" cy="114.05" r="2.6" fill="#f00000"/>
<circle cx="418.98" cy="113.59" r="2.6" fill="#f00000"/>
<circle cx="421.58" cy="113.93" r="2.6" fill="#f00000"/>
<circle cx="424.18" cy="113.83" r="2.6" fill="#f00000"/>
<circle cx="426.78" cy="113.11" r="2.6" fill="#f00000"/>
<circle cx="429.37" cy="113.41" r="2.6" fill="#f00000"/>
<circle cx="431.97" cy="112.92" r="2.6" fill="#f00000"/>
<circle cx="434.57" cy="113" r="2.6" fill="#f00000"/>
<circle cx="437.17" cy="112.68" r="2.6" fill="#f00000"/>
<circle cx="439.77" cy="112.86" r="2.6" fill="#f00000"/>
<circle cx="442.36" cy="112.28" r="2.6" fill="#f00000"/>
<circle cx="444.96" cy="111.89" r="2.6" fill="#f00000"/>
<circle cx="447.56" cy="111.97" r="2.6" fill="#f00000"/>
<circle cx="450.16" cy="111.59" r="2.6" fill="#f00000"/>
<circle cx="452.76" cy="111.45" r="2.6" fill="#f00000"/>
<circle cx="455.35" cy="111.73" r="2.6" fill="#f00000"/>
<circle cx="457.95" cy="110.98" r="2.6" fill="#f00000"/>
<circle cx="460.55" cy="110.91" r="2.6" fill="#f00000"/>
<circle cx="463.15" cy="110.94" r="2.6" fill="#f00000"/>
<circle cx="465.75" cy="110.95" r="2.6" fill="#f00000"/>
<circle cx="468.34" cy="110.1" r="2.6" fill="#f00000"/>
<circle cx="470.94" cy="110.13" r="2.6" fill="#f00000"/>
<circle cx="473.54" cy="109.66" r="2.6" fill="#f00000"/>
<circle cx="476.14" cy="109.26" r="2.6" fill="#f00000"/>
<circle cx="478.74" cy="109.12" r="2.6" fill="#f00000"/>
<circle cx="481.33" cy="108.68" r="2.6" fill="#f00000"/>
<circle cx="483.93" cy="108.82" r="2.6" fill="#f00000"/>
<circle cx="486.53" cy="108.23" r="2.6" fill="#f00000"/>
<circle cx="489.13" cy="108.24" r="2.6" fill="#f00000"/>
<circle cx="491.73" cy="107.58" r="2.6" fill="#f00000"/>
<circle cx="494.32" cy="107.35" r="2.6" fill="#f00000"/>
<circle cx="496.92" cy="107.69" r="2.6" fill="#f00000"/>
<circle cx="499.52" cy="107.39" r="2.6" fill="#f00000"/>
<circle cx="502.12" cy="107.05" r="2.6" fill="#f00000"/>
<circle cx="504.72" cy="106.18" r="2.6" fill="#f00000"/>
<circle cx="507.31" cy="106.33" r="2.6" fill="#f00000"/>
<circle cx="509.91" cy="104.28" r="2.6" fill="#f00000"/>
<circle cx="512.51" cy="104.34" r="2.6" fill="#f00000"/>
<circle cx="515.11" cy="103.98" r="2.6" fill="#f00000"/>
<circle cx="517.71" cy="103.88" r="2.6" fill="#f00000"/>
<circle cx="520.3" cy="103.71" r="2.6" fill="#f00000"/>
<circle cx="522.9" cy="103.31" r="2.6" fill="#f00000"/>
<circle cx="525.5" cy="103.09" r="2.6" fill="#f00000"/>
<circle cx="528.1" cy="102.62" r="2.6" fill="#f00000"/>
<circle cx="530.7" cy="102.58" r="2.6" fill="#f00000"/>
<circle cx="533.29" cy="102.16" r="2.6" fill="#f00000"/>
<circle cx="535.89" cy="102" r="2.6" fill="#f00000"/>
<circle cx="538.49" cy="101.68" r="2.6" fill="#f00000"/>
<circle cx="541.09" cy="101.72" r="2.6" fill="#f00000"/>
<circle cx="543.69" cy="102.02" r="2.6" fill="#f00000"/>
<circle cx="546.28" cy="101.36" r="2.6" fill="#f00000"/>
<circle cx="548.88" cy="101.18" r="2.6" fill="#f00000"/>
<circle cx="551.48" cy="101.13" r="2.6" fill="#f00000"/>
<circle cx="554.08" cy="101.29" r="2.6" fill="#f00000"/>
<circle cx="556.68" cy="101.07" r="2.6" fill="#f00000"/>
<circle cx="559.27" cy="101.37" r="2.6" fill="#f00000"/>
<circle cx="561.87" cy="100.78" r="2.6" fill="#f00000"/>
<circle cx="564.47" cy="100.88" r="2.6" fill="#f00000"/>
<circle cx="567.07" cy="101.01" r="2.6" fill="#f00000"/>
<circle cx="569.67" cy="101.08" r="2.6" fill="#f00000"/>
<circle cx="572.26" cy="100.35" r="2.6" fill="#f00000"/>
<circle cx="574.86" cy="100.14" r="2.6" fill="#f00000"/>
<circle cx="577.46" cy="100.76" r="2.6" fill="#f00000"/>
<circle cx="580.06" cy="100.09" r="2.6" fill="#f00000"/>
<circle cx="582.66" cy="100.29" r="2.6" fill="#f00000"/>
<circle cx="585.25" cy="100.39" r="2.6" fill="#f00000"/>
<circle cx="587.85" cy="100.17" r="2.6" fill="#f00000"/>
<circle cx="590.45" cy="99.69" r="2.6" fill="#f00000"/>
<circle cx="593.05" cy="99.5" r="2.6" fill="#f00000"/>
<circle cx="595.65" cy="100.05" r="2.6" fill="#f00000"/>
<circle cx="598.24" cy="99.5" r="2.6" fill="#f00000"/>
<circle cx="600.84" cy="99.84" r="2.6" fill="#f00000"/>
<circle cx="603.44" cy="99.2" r="2.6" fill="#f00000"/>
<circle cx="606.04" cy="99.4" r="2.6" fill="#f00000"/>
<circle cx="608.64" cy="98.87" r="2.6" fill="#f00000"/>
<circle cx="611.23" cy="98.68" r="2.6" fill="#f00000"/>
<circle cx="613.83" cy="98.95" r="2.6" fill="#f00000"/>
<circle cx="616.43" cy="98.46" r="2.6" fill="#f00000"/>
<circle cx="619.03" cy="98.88" r="2.6" fill="#f00000"/>
<circle cx="621.63" cy="98.95" r="2.6" fill="#f00000"/>
<circle cx="624.22" cy="98.42" r="2.6" fill="#f00000"/>
<circle cx="626.82" cy="98.76" r="2.6" fill="#f00000"/>
<circle cx="629.42" cy="98.51" r="2.6" fill="#f00000"/>
<circle cx="632.02" cy="98.23" r="2.6" fill="#f00000"/>
<circle cx="634.62" cy="97.95" r="2.6" fill="#f00000"/>
<circle cx="637.21" cy="98.19" r="2.6" fill="#f00000"/>
<circle cx="639.81" cy="98.17" r="2.6" fill="#f00000"/>
<circle cx="642.41" cy="97.4" r="2.6" fill="#f00000"/>
<circle cx="645.01" cy="97.72" r="2.6" fill="#f00000"/>
<circle cx="647.61" cy="97.1" r="2.6" fill="#f00000"/>
<circle cx="650.2" cy="97.03" r="2.6" fill="#f00000"/>
<circle cx="652.8" cy="97.32" r="2.6" fill="#f00000"/>
<circle cx="655.4" cy="97.14" r="2.6" fill="#f00000"/>
<circle cx="658" cy="96.94" r="2.6" fill="#f00000"/>
<circle cx="660.6" cy="96.68" r="2.6" fill="#f00000"/>
<line x1="596" y1="25" x2="619.1" y2="25" stroke="#8a8a8a" stroke-width="0.8"/>
<rect x="605.4" y="22.7" width="4.6" height="4.6" fill="#000"/>
<text x="622.8" y="28.6" font-size="10.5" text-anchor="start" fill="#262626" >charge</text>
<line x1="596" y1="38" x2="619.1" y2="38" stroke="#f4a0a0" stroke-width="0.8"/>
<circle cx="607.7" cy="38" r="2.9" fill="#f00000"/>
<text x="622.8" y="41.6" font-size="10.5" text-anchor="start" fill="#262626" >discharge</text>
<path d="M396.01,395.7 L398.73,382.81 L401.44,375.84 L404.16,370.83 L406.88,373.43 L409.59,375.3 L412.31,370.98 L415.02,370.78 L417.74,371.55 L420.45,373.01 L423.17,373.65 L425.88,374.44 L428.6,375.74 L431.31,375.69 L434.02,376.7 L436.74,376.87 L439.46,377.75 L442.17,377.84 L444.88,378.52 L447.6,379.56 L450.31,380.57 L453.03,381.81 L455.75,382.34 L458.46,383.12 L461.18,382.61 L463.89,382.53 L466.61,382.45 L469.32,382.79 L472.04,384.08 L474.75,383.42 L477.47,383.28 L480.18,383.31 L482.89,384.07 L485.61,385.08 L488.32,387.14 L491.04,384.64 L493.75,385.3 L496.47,385.53 L499.19,385.67 L501.9,385.55 L504.62,385.79 L507.33,385.81 L510.05,385.95 L512.76,386.48 L515.48,386.29 L518.19,386.93 L520.9,386.9 L523.62,387.66 L526.34,388.52 L529.05,386.75 L531.76,387.53 L534.48,387.41 L537.19,387.68 L539.91,387.64 L542.62,387.5 L545.34,387.96 L548.06,388.14 L550.77,387.89 L553.49,387.98 L556.2,388.28 L558.91,388.6 L561.63,388.39 L564.35,389.05 L567.06,389.62 L569.77,390.28 L572.49,390.25 L575.21,389.31 L577.92,389.22 L580.63,388.73 L583.35,388.88 L586.07,389.1 L588.78,388.94 L591.5,389.36 L594.21,389.09 L596.92,389.24 L599.64,389.36 L602.36,389.65 L605.07,389.62 L607.78,389.47 L610.5,389.76 L613.22,391.5 L615.93,390.02 L618.64,390.58 L621.36,389.96 L624.08,390.49 L626.79,389.47 L629.5,389.87 L632.22,390.25 L634.93,389.97 L637.65,389.79 L640.37,390.25 L643.08,390.33 L645.79,390.7 L648.51,389.98 L651.23,390.02 L653.94,390.23 L656.65,390.54 L659.37,390.96 L662.09,391.91 L664.8,392.84" fill="none" stroke="#333" stroke-width="0.8"/>
<rect x="393.71" y="393.4" width="4.6" height="4.6" fill="#000"/>
<rect x="396.43" y="380.51" width="4.6" height="4.6" fill="#000"/>
<rect x="399.14" y="373.54" width="4.6" height="4.6" fill="#000"/>
<rect x="401.86" y="368.53" width="4.6" height="4.6" fill="#000"/>
<rect x="404.57" y="371.13" width="4.6" height="4.6" fill="#000"/>
<rect x="407.29" y="373" width="4.6" height="4.6" fill="#000"/>
<rect x="410" y="368.68" width="4.6" height="4.6" fill="#000"/>
<rect x="412.72" y="368.48" width="4.6" height="4.6" fill="#000"/>
<rect x="415.44" y="369.25" width="4.6" height="4.6" fill="#000"/>
<rect x="418.15" y="370.71" width="4.6" height="4.6" fill="#000"/>
<rect x="420.87" y="371.35" width="4.6" height="4.6" fill="#000"/>
<rect x="423.58" y="372.14" width="4.6" height="4.6" fill="#000"/>
<rect x="426.3" y="373.44" width="4.6" height="4.6" fill="#000"/>
<rect x="429.01" y="373.39" width="4.6" height="4.6" fill="#000"/>
<rect x="431.72" y="374.4" width="4.6" height="4.6" fill="#000"/>
<rect x="434.44" y="374.57" width="4.6" height="4.6" fill="#000"/>
<rect x="437.16" y="375.45" width="4.6" height="4.6" fill="#000"/>
<rect x="439.87" y="375.54" width="4.6" height="4.6" fill="#000"/>
<rect x="442.58" y="376.22" width="4.6" height="4.6" fill="#000"/>
<rect x="445.3" y="377.26" width="4.6" height="4.6" fill="#000"/>
<rect x="448.01" y="378.27" width="4.6" height="4.6" fill="#000"/>
<rect x="450.73" y="379.51" width="4.6" height="4.6" fill="#000"/>
<rect x="453.44" y="380.04" width="4.6" height="4.6" fill="#000"/>
<rect x="456.16" y="380.82" width="4.6" height="4.6" fill="#000"/>
<rect x="458.88" y="380.31" width="4.6" height="4.6" fill="#000"/>
<rect x="461.59" y="380.23" width="4.6" height="4.6" fill="#000"/>
<rect x="464.31" y="380.15" width="4.6" height="4.6" fill="#000"/>
<rect x="467.02" y="380.49" width="4.6" height="4.6" fill="#000"/>
<rect x="469.74" y="381.78" width="4.6" height="4.6" fill="#000"/>
<rect x="472.45" y="381.12" width="4.6" height="4.6" fill="#000"/>
<rect x="475.17" y="380.98" width="4.6" height="4.6" fill="#000"/>
<rect x="477.88" y="381.01" width="4.6" height="4.6" fill="#000"/>
<rect x="480.59" y="381.77" width="4.6" height="4.6" fill="#000"/>
<rect x="483.31" y="382.78" width="4.6" height="4.6" fill="#000"/>
<rect x="486.02" y="384.84" width="4.6" height="4.6" fill="#000"/>
<rect x="488.74" y="382.34" width="4.6" height="4.6" fill="#000"/>
<rect x="491.45" y="383" width="4.6" height="4.6" fill="#000"/>
<rect x="494.17" y="383.23" width="4.6" height="4.6" fill="#000"/>
<rect x="496.88" y="383.37" width="4.6" height="4.6" fill="#000"/>
<rect x="499.6" y="383.25" width="4.6" height="4.6" fill="#000"/>
<rect x="502.31" y="383.49" width="4.6" height="4.6" fill="#000"/>
<rect x="505.03" y="383.51" width="4.6" height="4.6" fill="#000"/>
<rect x="507.75" y="383.65" width="4.6" height="4.6" fill="#000"/>
<rect x="510.46" y="384.18" width="4.6" height="4.6" fill="#000"/>
<rect x="513.18" y="383.99" width="4.6" height="4.6" fill="#000"/>
<rect x="515.89" y="384.63" width="4.6" height="4.6" fill="#000"/>
<rect x="518.61" y="384.6" width="4.6" height="4.6" fill="#000"/>
<rect x="521.32" y="385.36" width="4.6" height="4.6" fill="#000"/>
<rect x="524.04" y="386.22" width="4.6" height="4.6" fill="#000"/>
<rect x="526.75" y="384.45" width="4.6" height="4.6" fill="#000"/>
<rect x="529.47" y="385.23" width="4.6" height="4.6" fill="#000"/>
<rect x="532.18" y="385.11" width="4.6" height="4.6" fill="#000"/>
<rect x="534.89" y="385.38" width="4.6" height="4.6" fill="#000"/>
<rect x="537.61" y="385.34" width="4.6" height="4.6" fill="#000"/>
<rect x="540.33" y="385.2" width="4.6" height="4.6" fill="#000"/>
<rect x="543.04" y="385.66" width="4.6" height="4.6" fill="#000"/>
<rect x="545.76" y="385.84" width="4.6" height="4.6" fill="#000"/>
<rect x="548.47" y="385.59" width="4.6" height="4.6" fill="#000"/>
<rect x="551.19" y="385.68" width="4.6" height="4.6" fill="#000"/>
<rect x="553.9" y="385.98" width="4.6" height="4.6" fill="#000"/>
<rect x="556.62" y="386.3" width="4.6" height="4.6" fill="#000"/>
<rect x="559.33" y="386.09" width="4.6" height="4.6" fill="#000"/>
<rect x="562.05" y="386.75" width="4.6" height="4.6" fill="#000"/>
<rect x="564.76" y="387.32" width="4.6" height="4.6" fill="#000"/>
<rect x="567.48" y="387.98" width="4.6" height="4.6" fill="#000"/>
<rect x="570.19" y="387.95" width="4.6" height="4.6" fill="#000"/>
<rect x="572.91" y="387.01" width="4.6" height="4.6" fill="#000"/>
<rect x="575.62" y="386.92" width="4.6" height="4.6" fill="#000"/>
<rect x="578.34" y="386.43" width="4.6" height="4.6" fill="#000"/>
<rect x="581.05" y="386.58" width="4.6" height="4.6" fill="#000"/>
<rect x="583.77" y="386.8" width="4.6" height="4.6" fill="#000"/>
<rect x="586.48" y="386.64" width="4.6" height="4.6" fill="#000"/>
<rect x="589.2" y="387.06" width="4.6" height="4.6" fill="#000"/>
<rect x="591.91" y="386.79" width="4.6" height="4.6" fill="#000"/>
<rect x="594.62" y="386.94" width="4.6" height="4.6" fill="#000"/>
<rect x="597.34" y="387.06" width="4.6" height="4.6" fill="#000"/>
<rect x="600.06" y="387.35" width="4.6" height="4.6" fill="#000"/>
<rect x="602.77" y="387.32" width="4.6" height="4.6" fill="#000"/>
<rect x="605.49" y="387.17" width="4.6" height="4.6" fill="#000"/>
<rect x="608.2" y="387.46" width="4.6" height="4.6" fill="#000"/>
<rect x="610.92" y="389.2" width="4.6" height="4.6" fill="#000"/>
<rect x="613.63" y="387.72" width="4.6" height="4.6" fill="#000"/>
<rect x="616.35" y="388.28" width="4.6" height="4.6" fill="#000"/>
<rect x="619.06" y="387.66" width="4.6" height="4.6" fill="#000"/>
<rect x="621.78" y="388.19" width="4.6" height="4.6" fill="#000"/>
<rect x="624.49" y="387.17" width="4.6" height="4.6" fill="#000"/>
<rect x="627.21" y="387.57" width="4.6" height="4.6" fill="#000"/>
<rect x="629.92" y="387.95" width="4.6" height="4.6" fill="#000"/>
<rect x="632.63" y="387.67" width="4.6" height="4.6" fill="#000"/>
<rect x="635.35" y="387.49" width="4.6" height="4.6" fill="#000"/>
<rect x="638.07" y="387.95" width="4.6" height="4.6" fill="#000"/>
<rect x="640.78" y="388.03" width="4.6" height="4.6" fill="#000"/>
<rect x="643.5" y="388.4" width="4.6" height="4.6" fill="#000"/>
<rect x="646.21" y="387.68" width="4.6" height="4.6" fill="#000"/>
<rect x="648.93" y="387.72" width="4.6" height="4.6" fill="#000"/>
<rect x="651.64" y="387.93" width="4.6" height="4.6" fill="#000"/>
<rect x="654.36" y="388.24" width="4.6" height="4.6" fill="#000"/>
<rect x="657.07" y="388.66" width="4.6" height="4.6" fill="#000"/>
<rect x="659.79" y="389.61" width="4.6" height="4.6" fill="#000"/>
<rect x="662.5" y="390.54" width="4.6" height="4.6" fill="#000"/>
<path d="M396.01,278.74 L398.73,377.35 L401.44,372.3 L404.16,367.68 L406.88,369.81 L409.59,371.79 L412.31,367.98 L415.02,367.2 L417.74,368 L420.45,369.47 L423.17,370.83 L425.88,371.14 L428.6,372.41 L431.31,373.11 L434.02,373.62 L436.74,374.47 L439.46,375.3 L442.17,375.62 L444.88,376.48 L447.6,377.3 L450.31,378.58 L453.03,379.3 L455.75,380.52 L458.46,381.18 L461.18,380.92 L463.89,380.44 L466.61,380.97 L469.32,381.55 L472.04,382.22 L474.75,381.87 L477.47,381.92 L480.18,382.16 L482.89,382.45 L485.61,383.41 L488.32,385.53 L491.04,383.33 L493.75,384.1 L496.47,384.03 L499.19,384.15 L501.9,384.06 L504.62,384.26 L507.33,384.33 L510.05,384.2 L512.76,385.07 L515.48,385.27 L518.19,385.45 L520.9,385.69 L523.62,385.98 L526.34,387.26 L529.05,385.55 L531.76,386.26 L534.48,386.01 L537.19,386.26 L539.91,386.35 L542.62,386.41 L545.34,386.26 L548.06,386.4 L550.77,386.68 L553.49,386.91 L556.2,386.89 L558.91,387.14 L561.63,387.16 L564.35,387.39 L567.06,388.02 L569.77,388.63 L572.49,388.91 L575.21,387.75 L577.92,387.59 L580.63,387.48 L583.35,387.83 L586.07,387.53 L588.78,387.7 L591.5,387.89 L594.21,387.96 L596.92,387.9 L599.64,387.76 L602.36,388.02 L605.07,387.83 L607.78,388.05 L610.5,388.25 L613.22,389.83 L615.93,388.49 L618.64,389.03 L621.36,388.77 L624.08,388.8 L626.79,388.46 L629.5,388.44 L632.22,388.93 L634.93,388.53 L637.65,388.65 L640.37,389.1 L643.08,388.97 L645.79,389.27 L648.51,388.74 L651.23,388.89 L653.94,388.74 L656.65,389.32 L659.37,389.93 L662.09,390.48 L664.8,391.22" fill="none" stroke="#f07070" stroke-width="0.8"/>
<circle cx="396.01" cy="278.74" r="2.6" fill="#f00000"/>
<circle cx="398.73" cy="377.35" r="2.6" fill="#f00000"/>
<circle cx="401.44" cy="372.3" r="2.6" fill="#f00000"/>
<circle cx="404.16" cy="367.68" r="2.6" fill="#f00000"/>
<circle cx="406.88" cy="369.81" r="2.6" fill="#f00000"/>
<circle cx="409.59" cy="371.79" r="2.6" fill="#f00000"/>
<circle cx="412.31" cy="367.98" r="2.6" fill="#f00000"/>
<circle cx="415.02" cy="367.2" r="2.6" fill="#f00000"/>
<circle cx="417.74" cy="368" r="2.6" fill="#f00000"/>
<circle cx="420.45" cy="369.47" r="2.6" fill="#f00000"/>
<circle cx="423.17" cy="370.83" r="2.6" fill="#f00000"/>
<circle cx="425.88" cy="371.14" r="2.6" fill="#f00000"/>
<circle cx="428.6" cy="372.41" r="2.6" fill="#f00000"/>
<circle cx="431.31" cy="373.11" r="2.6" fill="#f00000"/>
<circle cx="434.02" cy="373.62" r="2.6" fill="#f00000"/>
<circle cx="436.74" cy="374.47" r="2.6" fill="#f00000"/>
<circle cx="439.46" cy="375.3" r="2.6" fill="#f00000"/>
<circle cx="442.17" cy="375.62" r="2.6" fill="#f00000"/>
<circle cx="444.88" cy="376.48" r="2.6" fill="#f00000"/>
<circle cx="447.6" cy="377.3" r="2.6" fill="#f00000"/>
<circle cx="450.31" cy="378.58" r="2.6" fill="#f00000"/>
<circle cx="453.03" cy="379.3" r="2.6" fill="#f00000"/>
<circle cx="455.75" cy="380.52" r="2.6" fill="#f00000"/>
<circle cx="458.46" cy="381.18" r="2.6" fill="#f00000"/>
<circle cx="461.18" cy="380.92" r="2.6" fill="#f00000"/>
<circle cx="463.89" cy="380.44" r="2.6" fill="#f00000"/>
<circle cx="466.61" cy="380.97" r="2.6" fill="#f00000"/>
<circle cx="469.32" cy="381.55" r="2.6" fill="#f00000"/>
<circle cx="472.04" cy="382.22" r="2.6" fill="#f00000"/>
<circle cx="474.75" cy="381.87" r="2.6" fill="#f00000"/>
<circle cx="477.47" cy="381.92" r="2.6" fill="#f00000"/>
<circle cx="480.18" cy="382.16" r="2.6" fill="#f00000"/>
<circle cx="482.89" cy="382.45" r="2.6" fill="#f00000"/>
<circle cx="485.61" cy="383.41" r="2.6" fill="#f00000"/>
<circle cx="488.32" cy="385.53" r="2.6" fill="#f00000"/>
<circle cx="491.04" cy="383.33" r="2.6" fill="#f00000"/>
<circle cx="493.75" cy="384.1" r="2.6" fill="#f00000"/>
<circle cx="496.47" cy="384.03" r="2.6" fill="#f00000"/>
<circle cx="499.19" cy="384.15" r="2.6" fill="#f00000"/>
<circle cx="501.9" cy="384.06" r="2.6" fill="#f00000"/>
<circle cx="504.62" cy="384.26" r="2.6" fill="#f00000"/>
<circle cx="507.33" cy="384.33" r="2.6" fill="#f00000"/>
<circle cx="510.05" cy="384.2" r="2.6" fill="#f00000"/>
<circle cx="512.76" cy="385.07" r="2.6" fill="#f00000"/>
<circle cx="515.48" cy="385.27" r="2.6" fill="#f00000"/>
<circle cx="518.19" cy="385.45" r="2.6" fill="#f00000"/>
<circle cx="520.9" cy="385.69" r="2.6" fill="#f00000"/>
<circle cx="523.62" cy="385.98" r="2.6" fill="#f00000"/>
<circle cx="526.34" cy="387.26" r="2.6" fill="#f00000"/>
<circle cx="529.05" cy="385.55" r="2.6" fill="#f00000"/>
<circle cx="531.76" cy="386.26" r="2.6" fill="#f00000"/>
<circle cx="534.48" cy="386.01" r="2.6" fill="#f00000"/>
<circle cx="537.19" cy="386.26" r="2.6" fill="#f00000"/>
<circle cx="539.91" cy="386.35" r="2.6" fill="#f00000"/>
<circle cx="542.62" cy="386.41" r="2.6" fill="#f00000"/>
<circle cx="545.34" cy="386.26" r="2.6" fill="#f00000"/>
<circle cx="548.06" cy="386.4" r="2.6" fill="#f00000"/>
<circle cx="550.77" cy="386.68" r="2.6" fill="#f00000"/>
<circle cx="553.49" cy="386.91" r="2.6" fill="#f00000"/>
<circle cx="556.2" cy="386.89" r="2.6" fill="#f00000"/>
<circle cx="558.91" cy="387.14" r="2.6" fill="#f00000"/>
<circle cx="561.63" cy="387.16" r="2.6" fill="#f00000"/>
<circle cx="564.35" cy="387.39" r="2.6" fill="#f00000"/>
<circle cx="567.06" cy="388.02" r="2.6" fill="#f00000"/>
<circle cx="569.77" cy="388.63" r="2.6" fill="#f00000"/>
<circle cx="572.49" cy="388.91" r="2.6" fill="#f00000"/>
<circle cx="575.21" cy="387.75" r="2.6" fill="#f00000"/>
<circle cx="577.92" cy="387.59" r="2.6" fill="#f00000"/>
<circle cx="580.63" cy="387.48" r="2.6" fill="#f00000"/>
<circle cx="583.35" cy="387.83" r="2.6" fill="#f00000"/>
<circle cx="586.07" cy="387.53" r="2.6" fill="#f00000"/>
<circle cx="588.78" cy="387.7" r="2.6" fill="#f00000"/>
<circle cx="591.5" cy="387.89" r="2.6" fill="#f00000"/>
<circle cx="594.21" cy="387.96" r="2.6" fill="#f00000"/>
<circle cx="596.92" cy="387.9" r="2.6" fill="#f00000"/>
<circle cx="599.64" cy="387.76" r="2.6" fill="#f00000"/>
<circle cx="602.36" cy="388.02" r="2.6" fill="#f00000"/>
<circle cx="605.07" cy="387.83" r="2.6" fill="#f00000"/>
<circle cx="607.78" cy="388.05" r="2.6" fill="#f00000"/>
<circle cx="610.5" cy="388.25" r="2.6" fill="#f00000"/>
<circle cx="613.22" cy="389.83" r="2.6" fill="#f00000"/>
<circle cx="615.93" cy="388.49" r="2.6" fill="#f00000"/>
<circle cx="618.64" cy="389.03" r="2.6" fill="#f00000"/>
<circle cx="621.36" cy="388.77" r="2.6" fill="#f00000"/>
<circle cx="624.08" cy="388.8" r="2.6" fill="#f00000"/>
<circle cx="626.79" cy="388.46" r="2.6" fill="#f00000"/>
<circle cx="629.5" cy="388.44" r="2.6" fill="#f00000"/>
<circle cx="632.22" cy="388.93" r="2.6" fill="#f00000"/>
<circle cx="634.93" cy="388.53" r="2.6" fill="#f00000"/>
<circle cx="637.65" cy="388.65" r="2.6" fill="#f00000"/>
<circle cx="640.37" cy="389.1" r="2.6" fill="#f00000"/>
<circle cx="643.08" cy="388.97" r="2.6" fill="#f00000"/>
<circle cx="645.79" cy="389.27" r="2.6" fill="#f00000"/>
<circle cx="648.51" cy="388.74" r="2.6" fill="#f00000"/>
<circle cx="651.23" cy="388.89" r="2.6" fill="#f00000"/>
<circle cx="653.94" cy="388.74" r="2.6" fill="#f00000"/>
<circle cx="656.65" cy="389.32" r="2.6" fill="#f00000"/>
<circle cx="659.37" cy="389.93" r="2.6" fill="#f00000"/>
<circle cx="662.09" cy="390.48" r="2.6" fill="#f00000"/>
<circle cx="664.8" cy="391.22" r="2.6" fill="#f00000"/>
<line x1="396" y1="424.3" x2="418.9" y2="424.3" stroke="#8a8a8a" stroke-width="0.8"/>
<rect x="405.6" y="422" width="4.6" height="4.6" fill="#000"/>
<text x="423" y="428.2" font-size="10.5" text-anchor="start" fill="#262626" >charge</text>
<line x1="396" y1="437.3" x2="418.9" y2="437.3" stroke="#f4a0a0" stroke-width="0.8"/>
<circle cx="407.9" cy="437.3" r="2.9" fill="#f00000"/>
<text x="423" y="441.2" font-size="10.5" text-anchor="start" fill="#262626" >discharge</text>
<rect x="535.6" y="275.6" width="101.7" height="82.6" fill="#fff" stroke="none"/>
<rect x="535.6" y="275.6" width="101.7" height="82.6" fill="none" stroke="#aaa" stroke-width="0.9"/>
<line x1="539.7" y1="358.2" x2="539.7" y2="356.2" stroke="#aaa" stroke-width="0.9"/>
<text x="539.7" y="365.7" font-size="8.9" text-anchor="middle" fill="#262626" >0</text>
<line x1="558.4" y1="358.2" x2="558.4" y2="356.2" stroke="#aaa" stroke-width="0.9"/>
<text x="558.4" y="365.7" font-size="8.9" text-anchor="middle" fill="#262626" >20</text>
<line x1="577.1" y1="358.2" x2="577.1" y2="356.2" stroke="#aaa" stroke-width="0.9"/>
<text x="577.1" y="365.7" font-size="8.9" text-anchor="middle" fill="#262626" >40</text>
<line x1="595.8" y1="358.2" x2="595.8" y2="356.2" stroke="#aaa" stroke-width="0.9"/>
<text x="595.8" y="365.7" font-size="8.9" text-anchor="middle" fill="#262626" >60</text>
<line x1="614.5" y1="358.2" x2="614.5" y2="356.2" stroke="#aaa" stroke-width="0.9"/>
<text x="614.5" y="365.7" font-size="8.9" text-anchor="middle" fill="#262626" >80</text>
<line x1="633.2" y1="358.2" x2="633.2" y2="356.2" stroke="#aaa" stroke-width="0.9"/>
<text x="633.2" y="365.7" font-size="8.9" text-anchor="middle" fill="#262626" >100</text>
<line x1="549.05" y1="358.2" x2="549.05" y2="357" stroke="#aaa" stroke-width="0.9"/>
<line x1="567.75" y1="358.2" x2="567.75" y2="357" stroke="#aaa" stroke-width="0.9"/>
<line x1="586.45" y1="358.2" x2="586.45" y2="357" stroke="#aaa" stroke-width="0.9"/>
<line x1="605.15" y1="358.2" x2="605.15" y2="357" stroke="#aaa" stroke-width="0.9"/>
<line x1="623.85" y1="358.2" x2="623.85" y2="357" stroke="#aaa" stroke-width="0.9"/>
<line x1="535.6" y1="358.2" x2="537.6" y2="358.2" stroke="#aaa" stroke-width="0.9"/>
<text x="533.9" y="361.4" font-size="8.9" text-anchor="end" fill="#262626" >0</text>
<line x1="535.6" y1="343.2" x2="537.6" y2="343.2" stroke="#aaa" stroke-width="0.9"/>
<text x="533.9" y="346.4" font-size="8.9" text-anchor="end" fill="#262626" >20</text>
<line x1="535.6" y1="328.2" x2="537.6" y2="328.2" stroke="#aaa" stroke-width="0.9"/>
<text x="533.9" y="331.4" font-size="8.9" text-anchor="end" fill="#262626" >40</text>
<line x1="535.6" y1="313.2" x2="537.6" y2="313.2" stroke="#aaa" stroke-width="0.9"/>
<text x="533.9" y="316.4" font-size="8.9" text-anchor="end" fill="#262626" >60</text>
<line x1="535.6" y1="298.2" x2="537.6" y2="298.2" stroke="#aaa" stroke-width="0.9"/>
<text x="533.9" y="301.4" font-size="8.9" text-anchor="end" fill="#262626" >80</text>
<line x1="535.6" y1="283.2" x2="537.6" y2="283.2" stroke="#aaa" stroke-width="0.9"/>
<text x="533.9" y="286.4" font-size="8.9" text-anchor="end" fill="#262626" >100</text>
<line x1="535.6" y1="350.7" x2="536.8" y2="350.7" stroke="#aaa" stroke-width="0.9"/>
<line x1="535.6" y1="335.7" x2="536.8" y2="335.7" stroke="#aaa" stroke-width="0.9"/>
<line x1="535.6" y1="320.7" x2="536.8" y2="320.7" stroke="#aaa" stroke-width="0.9"/>
<line x1="535.6" y1="305.7" x2="536.8" y2="305.7" stroke="#aaa" stroke-width="0.9"/>
<line x1="535.6" y1="290.7" x2="536.8" y2="290.7" stroke="#aaa" stroke-width="0.9"/>
<path d="M540.63,325.2 L541.57,286.81 L542.5,285.63 L543.44,285.48 L544.38,285.04 L545.31,284.94 L546.25,285.31 L547.18,285.17 L548.12,284.92 L549.05,284.76 L549.99,284.25 L550.92,284.08 L551.86,284 L552.79,284.55 L553.73,283.96 L554.66,284.42 L555.6,284.28 L556.53,283.97 L557.47,284.51 L558.4,284.47 L559.34,283.76 L560.27,284.21 L561.21,284.12 L562.14,283.88 L563.08,283.75 L564.01,284.32 L564.95,283.99 L565.88,283.86 L566.82,283.78 L567.75,283.99 L568.69,283.65 L569.62,283.32 L570.56,283.82 L571.49,283.69 L572.43,284.07 L573.36,283.93 L574.3,283.58 L575.23,284.07 L576.17,283.38 L577.1,283.36 L578.04,284.09 L578.97,283.33 L579.91,283.84 L580.84,283.48 L581.78,283.49 L582.71,283.91 L583.65,283.57 L584.58,283.59 L585.52,283.45 L586.45,283.94 L587.38,283.5 L588.32,283.31 L589.25,283.57 L590.19,283.69 L591.12,284.07 L592.06,283.73 L593,283.86 L593.93,283.53 L594.87,283.56 L595.8,283.67 L596.74,284.01 L597.67,283.59 L598.61,283.61 L599.54,284.01 L600.48,283.37 L601.41,283.59 L602.35,284.06 L603.28,283.34 L604.22,284.05 L605.15,283.88 L606.09,283.53 L607.02,283.64 L607.96,283.68 L608.89,283.59 L609.83,283.76 L610.76,283.89 L611.7,284.02 L612.63,284.11 L613.57,283.53 L614.5,283.5 L615.44,283.69 L616.37,283.51 L617.31,283.85 L618.24,283.94 L619.18,283.83 L620.11,283.39 L621.05,284.14 L621.98,283.72 L622.92,283.95 L623.85,283.48 L624.79,283.86 L625.72,283.88 L626.66,283.81 L627.59,283.69 L628.53,283.48 L629.46,283.86 L630.4,283.41 L631.33,284.07 L632.27,283.93 L633.2,284.09" fill="none" stroke="#bbb" stroke-width="0.6"/>
<path d="M541.57,286.81 L542.5,285.63 L543.44,285.48 L544.38,285.04 L545.31,284.94 L546.25,285.31 L547.18,285.17 L548.12,284.92 L549.05,284.76 L549.99,284.25 L550.92,284.08 L551.86,284 L552.79,284.55 L553.73,283.96 L554.66,284.42 L555.6,284.28 L556.53,283.97 L557.47,284.51 L558.4,284.47 L559.34,283.76 L560.27,284.21 L561.21,284.12 L562.14,283.88 L563.08,283.75 L564.01,284.32 L564.95,283.99 L565.88,283.86 L566.82,283.78 L567.75,283.99 L568.69,283.65 L569.62,283.32 L570.56,283.82 L571.49,283.69 L572.43,284.07 L573.36,283.93 L574.3,283.58 L575.23,284.07 L576.17,283.38 L577.1,283.36 L578.04,284.09 L578.97,283.33 L579.91,283.84 L580.84,283.48 L581.78,283.49 L582.71,283.91 L583.65,283.57 L584.58,283.59 L585.52,283.45 L586.45,283.94 L587.38,283.5 L588.32,283.31 L589.25,283.57 L590.19,283.69 L591.12,284.07 L592.06,283.73 L593,283.86 L593.93,283.53 L594.87,283.56 L595.8,283.67 L596.74,284.01 L597.67,283.59 L598.61,283.61 L599.54,284.01 L600.48,283.37 L601.41,283.59 L602.35,284.06 L603.28,283.34 L604.22,284.05 L605.15,283.88 L606.09,283.53 L607.02,283.64 L607.96,283.68 L608.89,283.59 L609.83,283.76 L610.76,283.89 L611.7,284.02 L612.63,284.11 L613.57,283.53 L614.5,283.5 L615.44,283.69 L616.37,283.51 L617.31,283.85 L618.24,283.94 L619.18,283.83 L620.11,283.39 L621.05,284.14 L621.98,283.72 L622.92,283.95 L623.85,283.48 L624.79,283.86 L625.72,283.88 L626.66,283.81 L627.59,283.69 L628.53,283.48 L629.46,283.86 L630.4,283.41 L631.33,284.07 L632.27,283.93 L633.2,284.09" fill="none" stroke="#111" stroke-width="1.6"/>
<rect x="539.74" y="324.3" width="1.8" height="1.8" fill="#222"/>
<text x="586.6" y="379.2" font-size="10.6" text-anchor="middle" fill="#262626" >Cycle number</text>
<text x="0" y="0" font-size="10.1" text-anchor="middle" fill="#262626" transform="translate(517.8,316.4) rotate(-90)">Efficiency (%)</text>
</svg>
</body></html>
